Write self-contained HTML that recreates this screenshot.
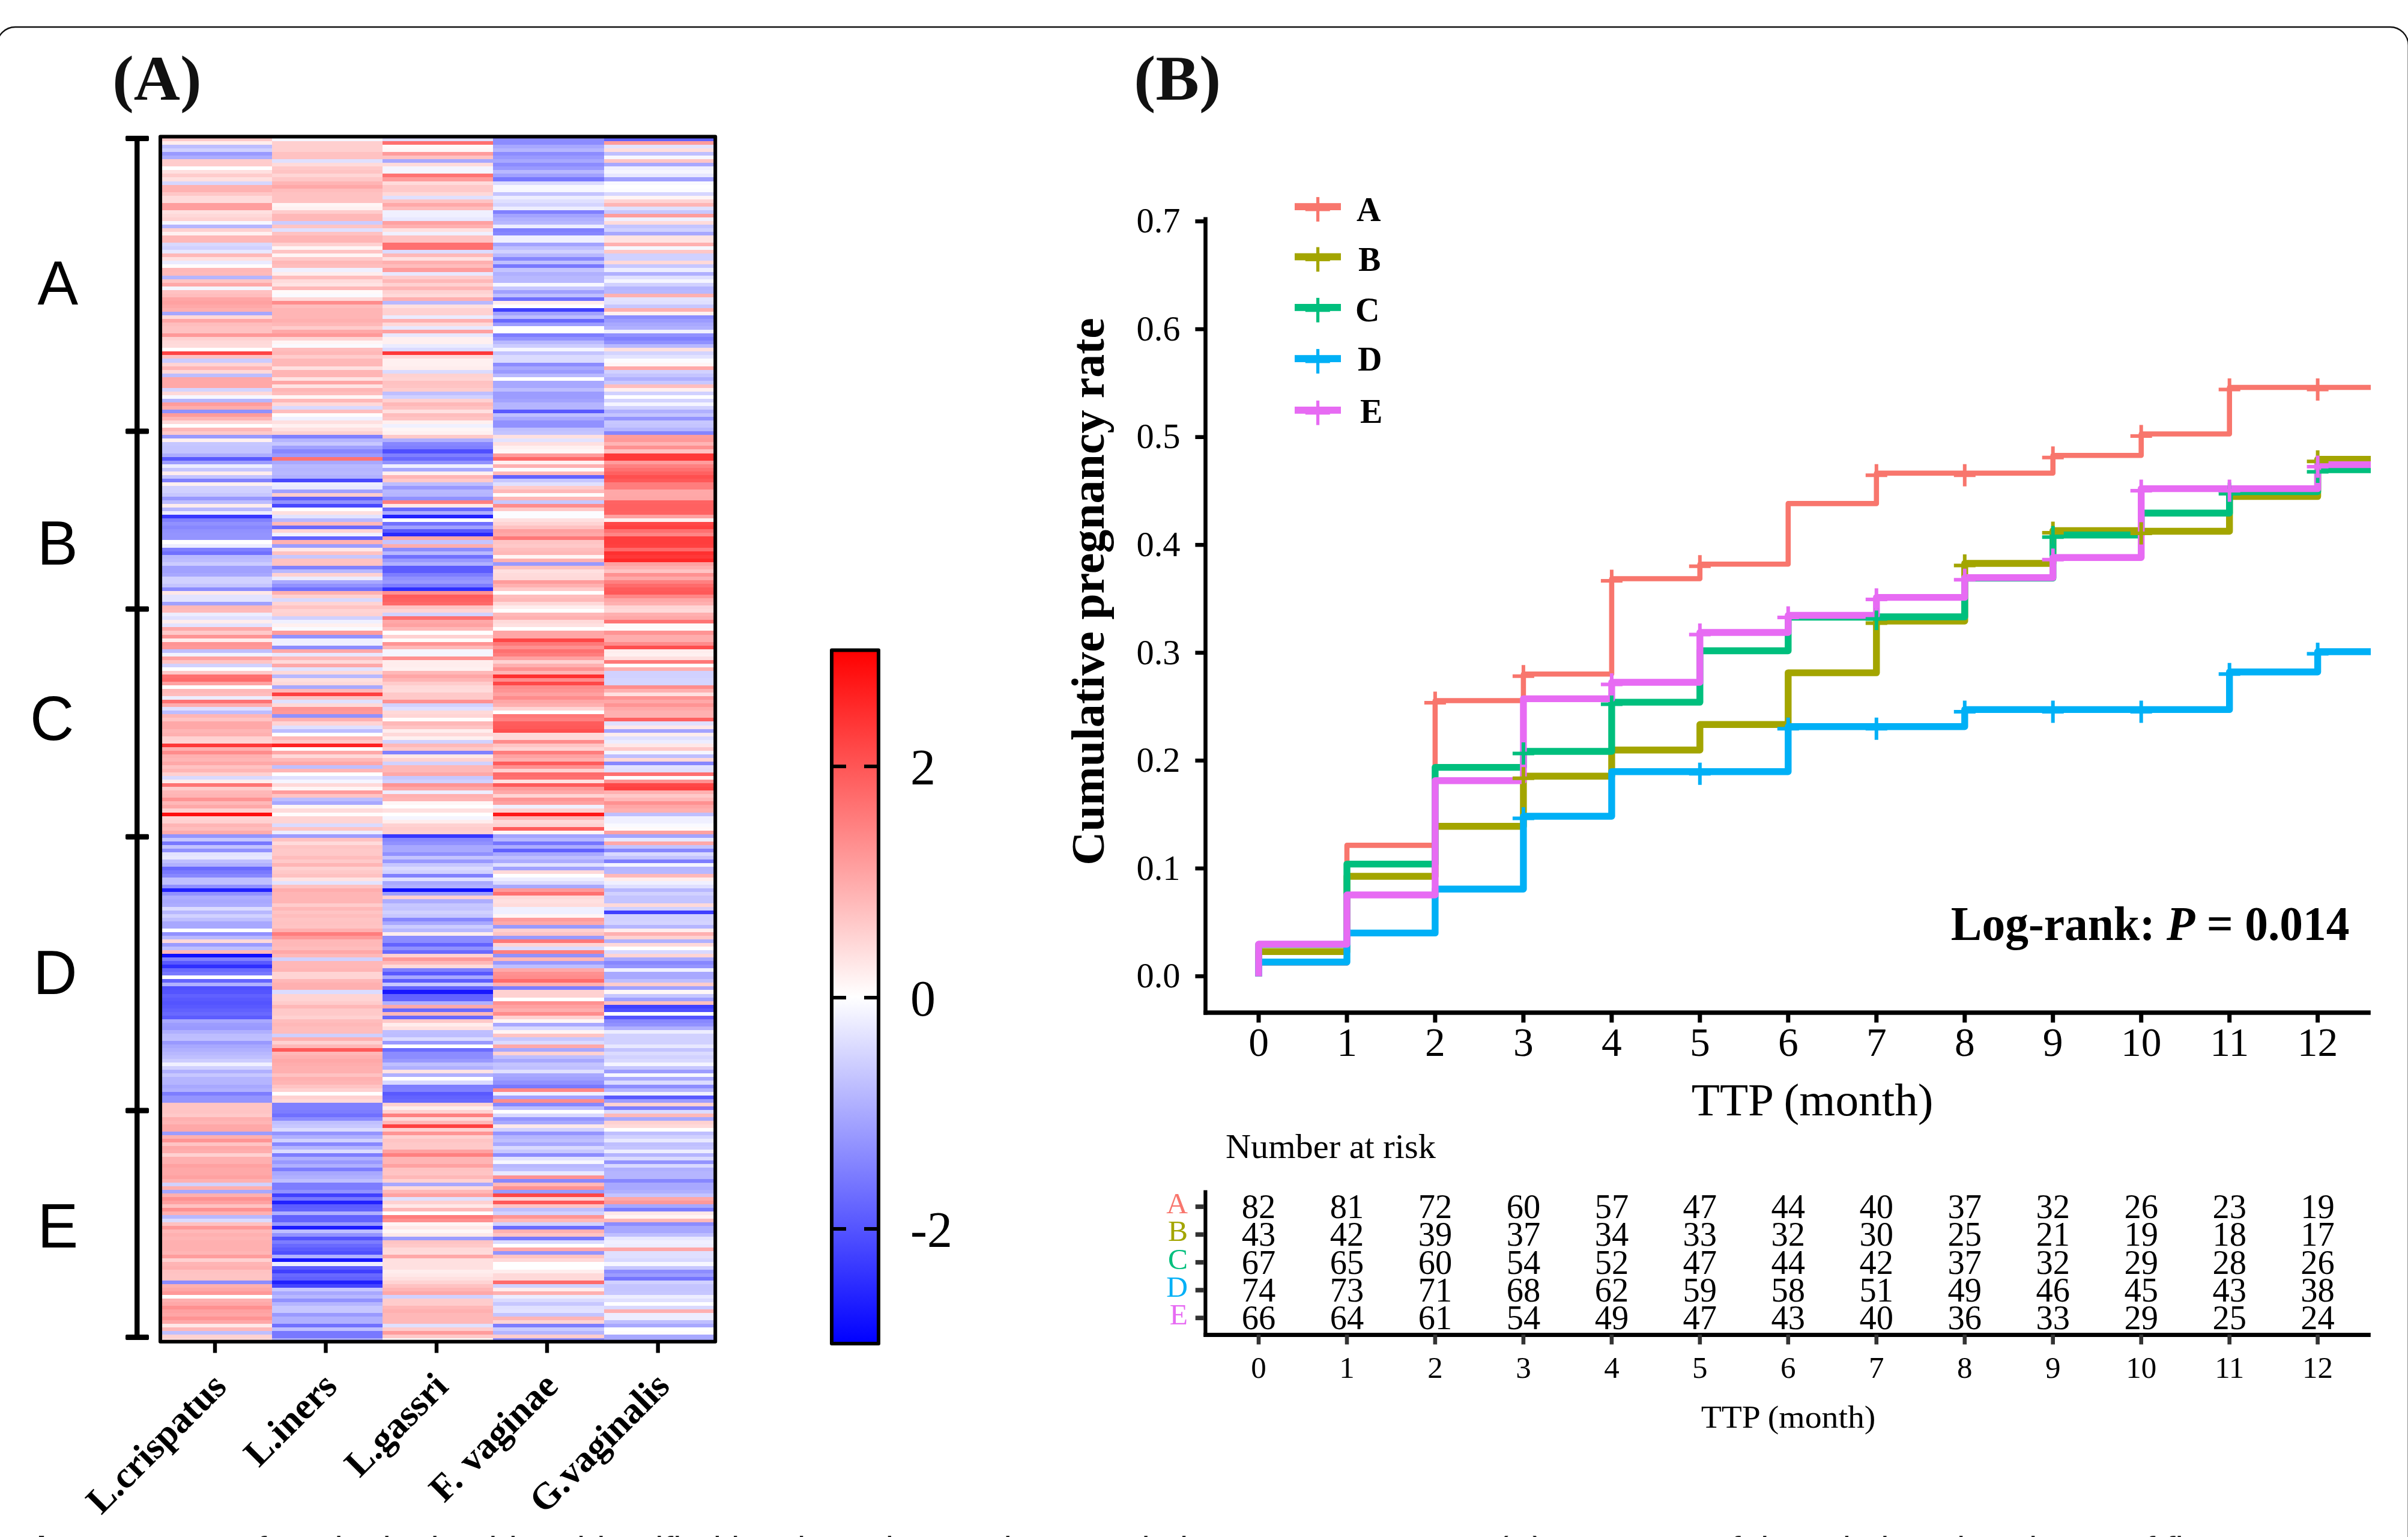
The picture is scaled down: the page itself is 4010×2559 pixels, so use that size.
<!DOCTYPE html>
<html lang="en"><head><meta charset="utf-8"><title>Figure</title>
<style>html,body{margin:0;padding:0;background:#fff}body{width:4010px;height:2559px;overflow:hidden}svg{display:block}</style>
</head><body>
<svg width="4010" height="2559" viewBox="0 0 4010 2559">
<rect width="4010" height="2559" fill="#fff"/>
<g shape-rendering="crispEdges">
<g transform="translate(270.0 0)">
<rect y="229.0" width="182.9" height="6.3" fill="#ffc9c9"/>
<rect y="235.0" width="182.9" height="6.3" fill="#ffeded"/>
<rect y="241.1" width="182.9" height="6.3" fill="#bdbdff"/>
<rect y="247.1" width="182.9" height="6.3" fill="#d1d1ff"/>
<rect y="253.2" width="182.9" height="6.3" fill="#99f"/>
<rect y="259.2" width="182.9" height="6.3" fill="#adadff"/>
<rect y="265.2" width="182.9" height="12.4" fill="#fcc"/>
<rect y="277.3" width="182.9" height="6.3" fill="#fff"/>
<rect y="283.4" width="182.9" height="6.3" fill="#ffe0e0"/>
<rect y="289.4" width="182.9" height="6.3" fill="#fcc"/>
<rect y="295.4" width="182.9" height="6.3" fill="#ffe0e0"/>
<rect y="301.5" width="182.9" height="6.3" fill="#d6d6ff"/>
<rect y="307.5" width="182.9" height="12.4" fill="#ffb2b2"/>
<rect y="319.6" width="182.9" height="6.3" fill="#ffc7c7"/>
<rect y="325.6" width="182.9" height="12.4" fill="#ffdbdb"/>
<rect y="337.7" width="182.9" height="12.4" fill="#ff9e9e"/>
<rect y="349.8" width="182.9" height="6.3" fill="#ffe0e0"/>
<rect y="355.8" width="182.9" height="6.3" fill="#ffd9d9"/>
<rect y="361.9" width="182.9" height="6.3" fill="#ffd1d1"/>
<rect y="367.9" width="182.9" height="6.3" fill="#f7f7ff"/>
<rect y="374.0" width="182.9" height="6.3" fill="#b5b5ff"/>
<rect y="380.0" width="182.9" height="6.3" fill="#ffd1d1"/>
<rect y="386.0" width="182.9" height="6.3" fill="#fff0f0"/>
<rect y="392.1" width="182.9" height="12.4" fill="#ffb8b8"/>
<rect y="404.2" width="182.9" height="6.3" fill="#d9d9ff"/>
<rect y="410.2" width="182.9" height="6.3" fill="#d1d1ff"/>
<rect y="416.2" width="182.9" height="6.3" fill="#e8e8ff"/>
<rect y="422.3" width="182.9" height="6.3" fill="#ffb8b8"/>
<rect y="428.3" width="182.9" height="6.3" fill="#ffe0e0"/>
<rect y="434.4" width="182.9" height="6.3" fill="#ebebff"/>
<rect y="440.4" width="182.9" height="6.3" fill="#fffcfc"/>
<rect y="446.4" width="182.9" height="6.3" fill="#ffb8b8"/>
<rect y="452.5" width="182.9" height="6.3" fill="#ffbaba"/>
<rect y="458.5" width="182.9" height="6.3" fill="#b5b5ff"/>
<rect y="464.6" width="182.9" height="6.3" fill="#ffc4c4"/>
<rect y="470.6" width="182.9" height="6.3" fill="#ffa8a8"/>
<rect y="476.6" width="182.9" height="6.3" fill="#f5f5ff"/>
<rect y="482.7" width="182.9" height="6.3" fill="#ffc2c2"/>
<rect y="488.7" width="182.9" height="6.3" fill="#ffbdbd"/>
<rect y="494.8" width="182.9" height="6.3" fill="#ffa6a6"/>
<rect y="500.8" width="182.9" height="6.3" fill="#ffa1a1"/>
<rect y="506.8" width="182.9" height="6.3" fill="#ffa8a8"/>
<rect y="512.9" width="182.9" height="6.3" fill="#ffb0b0"/>
<rect y="518.9" width="182.9" height="6.3" fill="#a6a6ff"/>
<rect y="525.0" width="182.9" height="6.3" fill="#ffd9d9"/>
<rect y="531.0" width="182.9" height="6.3" fill="#ffa6a6"/>
<rect y="537.0" width="182.9" height="6.3" fill="#ffbdbd"/>
<rect y="543.1" width="182.9" height="12.4" fill="#ffc2c2"/>
<rect y="555.2" width="182.9" height="6.3" fill="#f99"/>
<rect y="561.2" width="182.9" height="6.3" fill="#ffd1d1"/>
<rect y="567.2" width="182.9" height="6.3" fill="#ffd9d9"/>
<rect y="573.3" width="182.9" height="6.3" fill="#ffdbdb"/>
<rect y="579.3" width="182.9" height="6.3" fill="#fff"/>
<rect y="585.4" width="182.9" height="6.3" fill="#ff4545"/>
<rect y="591.4" width="182.9" height="6.3" fill="#ffc2c2"/>
<rect y="597.4" width="182.9" height="6.3" fill="#ccf"/>
<rect y="603.5" width="182.9" height="6.3" fill="#ffd4d4"/>
<rect y="609.5" width="182.9" height="6.3" fill="#ffb5b5"/>
<rect y="615.6" width="182.9" height="6.3" fill="#ffd9d9"/>
<rect y="621.6" width="182.9" height="6.3" fill="#bdbdff"/>
<rect y="627.6" width="182.9" height="18.4" fill="#ffa8a8"/>
<rect y="645.8" width="182.9" height="6.3" fill="#d4d4ff"/>
<rect y="651.8" width="182.9" height="6.3" fill="#ffd9d9"/>
<rect y="657.8" width="182.9" height="6.3" fill="#f7f7ff"/>
<rect y="663.9" width="182.9" height="6.3" fill="#b5b5ff"/>
<rect y="669.9" width="182.9" height="6.3" fill="#ff9c9c"/>
<rect y="676.0" width="182.9" height="6.3" fill="#ffadad"/>
<rect y="682.0" width="182.9" height="6.3" fill="#9191ff"/>
<rect y="688.0" width="182.9" height="6.3" fill="#ff9c9c"/>
<rect y="694.1" width="182.9" height="6.3" fill="#ffb5b5"/>
<rect y="700.1" width="182.9" height="6.3" fill="#ffd9d9"/>
<rect y="706.2" width="182.9" height="6.3" fill="#fff"/>
<rect y="712.2" width="182.9" height="6.3" fill="#ffb8b8"/>
<rect y="718.2" width="182.9" height="6.3" fill="#ffc9c9"/>
<rect y="724.3" width="182.9" height="6.3" fill="#99f"/>
<rect y="730.3" width="182.9" height="6.3" fill="#fff0f0"/>
<rect y="736.4" width="182.9" height="6.3" fill="#c7c7ff"/>
<rect y="742.4" width="182.9" height="12.4" fill="#c4c4ff"/>
<rect y="754.5" width="182.9" height="6.3" fill="#adadff"/>
<rect y="760.5" width="182.9" height="6.3" fill="#5959ff"/>
<rect y="766.6" width="182.9" height="6.3" fill="#9c9cff"/>
<rect y="772.6" width="182.9" height="6.3" fill="#ededff"/>
<rect y="778.6" width="182.9" height="6.3" fill="#c7c7ff"/>
<rect y="784.7" width="182.9" height="6.3" fill="#ffeded"/>
<rect y="790.7" width="182.9" height="6.3" fill="#c4c4ff"/>
<rect y="796.8" width="182.9" height="6.3" fill="#8080ff"/>
<rect y="802.8" width="182.9" height="6.3" fill="#fff0f0"/>
<rect y="808.8" width="182.9" height="12.4" fill="#d1d1ff"/>
<rect y="820.9" width="182.9" height="6.3" fill="#c7c7ff"/>
<rect y="827.0" width="182.9" height="6.3" fill="#99f"/>
<rect y="833.0" width="182.9" height="6.3" fill="#bdbdff"/>
<rect y="839.0" width="182.9" height="6.3" fill="#ffeded"/>
<rect y="845.1" width="182.9" height="6.3" fill="#b8b8ff"/>
<rect y="851.1" width="182.9" height="6.3" fill="#ededff"/>
<rect y="857.2" width="182.9" height="6.3" fill="#3838ff"/>
<rect y="863.2" width="182.9" height="6.3" fill="#8080ff"/>
<rect y="869.2" width="182.9" height="6.3" fill="#9191ff"/>
<rect y="875.3" width="182.9" height="6.3" fill="#8787ff"/>
<rect y="881.3" width="182.9" height="6.3" fill="#9191ff"/>
<rect y="887.4" width="182.9" height="12.4" fill="#9494ff"/>
<rect y="899.4" width="182.9" height="6.3" fill="#fff"/>
<rect y="905.5" width="182.9" height="6.3" fill="#ededff"/>
<rect y="911.5" width="182.9" height="6.3" fill="#8080ff"/>
<rect y="917.6" width="182.9" height="6.3" fill="#7070ff"/>
<rect y="923.6" width="182.9" height="6.3" fill="#b8b8ff"/>
<rect y="929.6" width="182.9" height="6.3" fill="#bdbdff"/>
<rect y="935.7" width="182.9" height="6.3" fill="#ccf"/>
<rect y="941.7" width="182.9" height="12.4" fill="#a1a1ff"/>
<rect y="953.8" width="182.9" height="6.3" fill="#a8a8ff"/>
<rect y="959.8" width="182.9" height="12.4" fill="#d1d1ff"/>
<rect y="971.9" width="182.9" height="6.3" fill="#c4c4ff"/>
<rect y="978.0" width="182.9" height="6.3" fill="#8c8cff"/>
<rect y="984.0" width="182.9" height="6.3" fill="#ffe8e8"/>
<rect y="990.0" width="182.9" height="12.4" fill="#e3e3ff"/>
<rect y="1002.1" width="182.9" height="6.3" fill="#a1a1ff"/>
<rect y="1008.2" width="182.9" height="6.3" fill="#ffb8b8"/>
<rect y="1014.2" width="182.9" height="6.3" fill="#ffbaba"/>
<rect y="1020.2" width="182.9" height="6.3" fill="#ededff"/>
<rect y="1026.3" width="182.9" height="6.3" fill="#e0e0ff"/>
<rect y="1032.3" width="182.9" height="6.3" fill="#ffeded"/>
<rect y="1038.4" width="182.9" height="6.3" fill="#e3e3ff"/>
<rect y="1044.4" width="182.9" height="6.3" fill="#ffa8a8"/>
<rect y="1050.4" width="182.9" height="6.3" fill="#ffc9c9"/>
<rect y="1056.5" width="182.9" height="6.3" fill="#ff9494"/>
<rect y="1062.5" width="182.9" height="6.3" fill="#ffeded"/>
<rect y="1068.6" width="182.9" height="6.3" fill="#ff9494"/>
<rect y="1074.6" width="182.9" height="6.3" fill="#f99"/>
<rect y="1080.6" width="182.9" height="6.3" fill="#bfbfff"/>
<rect y="1086.7" width="182.9" height="6.3" fill="#f2f2ff"/>
<rect y="1092.7" width="182.9" height="6.3" fill="#ffa1a1"/>
<rect y="1098.8" width="182.9" height="6.3" fill="#ffc4c4"/>
<rect y="1104.8" width="182.9" height="6.3" fill="#d1d1ff"/>
<rect y="1110.8" width="182.9" height="6.3" fill="#fff"/>
<rect y="1116.9" width="182.9" height="6.3" fill="#ffc9c9"/>
<rect y="1122.9" width="182.9" height="6.3" fill="#ff7070"/>
<rect y="1129.0" width="182.9" height="6.3" fill="#ff6b6b"/>
<rect y="1135.0" width="182.9" height="6.3" fill="#ffa1a1"/>
<rect y="1141.0" width="182.9" height="6.3" fill="#fff"/>
<rect y="1147.1" width="182.9" height="6.3" fill="#ffb8b8"/>
<rect y="1153.1" width="182.9" height="6.3" fill="#ffbdbd"/>
<rect y="1159.2" width="182.9" height="6.3" fill="#ededff"/>
<rect y="1165.2" width="182.9" height="6.3" fill="#ff7373"/>
<rect y="1171.2" width="182.9" height="6.3" fill="#ffadad"/>
<rect y="1177.3" width="182.9" height="6.3" fill="#e0e0ff"/>
<rect y="1183.3" width="182.9" height="6.3" fill="#bdbdff"/>
<rect y="1189.4" width="182.9" height="6.3" fill="#ffb5b5"/>
<rect y="1195.4" width="182.9" height="6.3" fill="#ffc4c4"/>
<rect y="1201.4" width="182.9" height="12.4" fill="#ffa8a8"/>
<rect y="1213.5" width="182.9" height="6.3" fill="#ffb5b5"/>
<rect y="1219.6" width="182.9" height="6.3" fill="#ffb0b0"/>
<rect y="1225.6" width="182.9" height="6.3" fill="#ffd1d1"/>
<rect y="1231.7" width="182.9" height="6.3" fill="#ffd4d4"/>
<rect y="1237.7" width="182.9" height="6.3" fill="#ff3838"/>
<rect y="1243.7" width="182.9" height="6.3" fill="#ffb0b0"/>
<rect y="1249.8" width="182.9" height="6.3" fill="#ff8c8c"/>
<rect y="1255.8" width="182.9" height="6.3" fill="#ffb0b0"/>
<rect y="1261.9" width="182.9" height="6.3" fill="#ffb5b5"/>
<rect y="1267.9" width="182.9" height="6.3" fill="#ffa8a8"/>
<rect y="1273.9" width="182.9" height="6.3" fill="#ffc2c2"/>
<rect y="1280.0" width="182.9" height="6.3" fill="#ffb5b5"/>
<rect y="1286.0" width="182.9" height="6.3" fill="#ffd1d1"/>
<rect y="1292.1" width="182.9" height="6.3" fill="#d9d9ff"/>
<rect y="1298.1" width="182.9" height="6.3" fill="#ffeded"/>
<rect y="1304.1" width="182.9" height="6.3" fill="#ff7373"/>
<rect y="1310.2" width="182.9" height="6.3" fill="#fcc"/>
<rect y="1316.2" width="182.9" height="6.3" fill="#ffb8b8"/>
<rect y="1322.3" width="182.9" height="6.3" fill="#ffb5b5"/>
<rect y="1328.3" width="182.9" height="6.3" fill="#ff9494"/>
<rect y="1334.3" width="182.9" height="6.3" fill="#ffb8b8"/>
<rect y="1340.4" width="182.9" height="6.3" fill="#ffa8a8"/>
<rect y="1346.4" width="182.9" height="6.3" fill="#ffd1d1"/>
<rect y="1352.5" width="182.9" height="6.3" fill="#ff0f0f"/>
<rect y="1358.5" width="182.9" height="6.3" fill="#ffd4d4"/>
<rect y="1364.5" width="182.9" height="6.3" fill="#ffd1d1"/>
<rect y="1370.6" width="182.9" height="6.3" fill="#ffb5b5"/>
<rect y="1376.6" width="182.9" height="6.3" fill="#ffbdbd"/>
<rect y="1382.7" width="182.9" height="6.3" fill="#ffabab"/>
<rect y="1388.7" width="182.9" height="6.3" fill="#9494ff"/>
<rect y="1394.7" width="182.9" height="6.3" fill="#c7c7ff"/>
<rect y="1400.8" width="182.9" height="6.3" fill="#7878ff"/>
<rect y="1406.8" width="182.9" height="6.3" fill="#c4c4ff"/>
<rect y="1412.9" width="182.9" height="6.3" fill="#9191ff"/>
<rect y="1418.9" width="182.9" height="6.3" fill="#e3e3ff"/>
<rect y="1424.9" width="182.9" height="6.3" fill="#e8e8ff"/>
<rect y="1431.0" width="182.9" height="6.3" fill="#bfbfff"/>
<rect y="1437.0" width="182.9" height="6.3" fill="#b0b0ff"/>
<rect y="1443.1" width="182.9" height="6.3" fill="#6969ff"/>
<rect y="1449.1" width="182.9" height="6.3" fill="#7878ff"/>
<rect y="1455.1" width="182.9" height="6.3" fill="#8787ff"/>
<rect y="1461.2" width="182.9" height="12.4" fill="#bfbfff"/>
<rect y="1473.3" width="182.9" height="6.3" fill="#9191ff"/>
<rect y="1479.3" width="182.9" height="6.3" fill="#2121ff"/>
<rect y="1485.3" width="182.9" height="6.3" fill="#9191ff"/>
<rect y="1491.4" width="182.9" height="6.3" fill="#adadff"/>
<rect y="1497.4" width="182.9" height="6.3" fill="#a8a8ff"/>
<rect y="1503.5" width="182.9" height="6.3" fill="#adadff"/>
<rect y="1509.5" width="182.9" height="6.3" fill="#dbdbff"/>
<rect y="1515.5" width="182.9" height="6.3" fill="#b8b8ff"/>
<rect y="1521.6" width="182.9" height="6.3" fill="#d1d1ff"/>
<rect y="1527.6" width="182.9" height="6.3" fill="#bfbfff"/>
<rect y="1533.7" width="182.9" height="12.4" fill="#a8a8ff"/>
<rect y="1545.7" width="182.9" height="6.3" fill="#fff"/>
<rect y="1551.8" width="182.9" height="6.3" fill="#9191ff"/>
<rect y="1557.8" width="182.9" height="6.3" fill="#b8b8ff"/>
<rect y="1563.9" width="182.9" height="6.3" fill="#ffd9d9"/>
<rect y="1569.9" width="182.9" height="6.3" fill="#9c9cff"/>
<rect y="1575.9" width="182.9" height="6.3" fill="#bfbfff"/>
<rect y="1582.0" width="182.9" height="6.3" fill="#ffb8b8"/>
<rect y="1588.0" width="182.9" height="6.3" fill="#0f0fff"/>
<rect y="1594.1" width="182.9" height="6.3" fill="#8080ff"/>
<rect y="1600.1" width="182.9" height="6.3" fill="#5959ff"/>
<rect y="1606.1" width="182.9" height="6.3" fill="#3030ff"/>
<rect y="1612.2" width="182.9" height="6.3" fill="#6969ff"/>
<rect y="1618.2" width="182.9" height="6.3" fill="#7878ff"/>
<rect y="1624.3" width="182.9" height="6.3" fill="#fff"/>
<rect y="1630.3" width="182.9" height="6.3" fill="#6363ff"/>
<rect y="1636.3" width="182.9" height="6.3" fill="#b0b0ff"/>
<rect y="1642.4" width="182.9" height="6.3" fill="#4f4fff"/>
<rect y="1648.4" width="182.9" height="6.3" fill="#5454ff"/>
<rect y="1654.5" width="182.9" height="6.3" fill="#6161ff"/>
<rect y="1660.5" width="182.9" height="6.3" fill="#5959ff"/>
<rect y="1666.5" width="182.9" height="6.3" fill="#5454ff"/>
<rect y="1672.6" width="182.9" height="6.3" fill="#5959ff"/>
<rect y="1678.6" width="182.9" height="6.3" fill="#6161ff"/>
<rect y="1684.7" width="182.9" height="6.3" fill="#6969ff"/>
<rect y="1690.7" width="182.9" height="6.3" fill="#5c5cff"/>
<rect y="1696.7" width="182.9" height="6.3" fill="#a8a8ff"/>
<rect y="1702.8" width="182.9" height="6.3" fill="#9c9cff"/>
<rect y="1708.8" width="182.9" height="6.3" fill="#99f"/>
<rect y="1714.9" width="182.9" height="6.3" fill="#b0b0ff"/>
<rect y="1720.9" width="182.9" height="6.3" fill="#bdbdff"/>
<rect y="1726.9" width="182.9" height="6.3" fill="#bfbfff"/>
<rect y="1733.0" width="182.9" height="6.3" fill="#99f"/>
<rect y="1739.0" width="182.9" height="6.3" fill="#a8a8ff"/>
<rect y="1745.1" width="182.9" height="6.3" fill="#b0b0ff"/>
<rect y="1751.1" width="182.9" height="6.3" fill="#b8b8ff"/>
<rect y="1757.1" width="182.9" height="6.3" fill="#bfbfff"/>
<rect y="1763.2" width="182.9" height="6.3" fill="#ccf"/>
<rect y="1769.2" width="182.9" height="6.3" fill="#f0f0ff"/>
<rect y="1775.3" width="182.9" height="6.3" fill="#d1d1ff"/>
<rect y="1781.3" width="182.9" height="6.3" fill="#b0b0ff"/>
<rect y="1787.3" width="182.9" height="6.3" fill="#c7c7ff"/>
<rect y="1793.4" width="182.9" height="12.4" fill="#b5b5ff"/>
<rect y="1805.5" width="182.9" height="6.3" fill="#a8a8ff"/>
<rect y="1811.5" width="182.9" height="6.3" fill="#b0b0ff"/>
<rect y="1817.5" width="182.9" height="6.3" fill="#7d7dff"/>
<rect y="1823.6" width="182.9" height="12.4" fill="#9494ff"/>
<rect y="1835.7" width="182.9" height="18.4" fill="#ffc4c4"/>
<rect y="1853.8" width="182.9" height="6.3" fill="#ffc9c9"/>
<rect y="1859.8" width="182.9" height="6.3" fill="#ffb0b0"/>
<rect y="1865.9" width="182.9" height="6.3" fill="#ffb5b5"/>
<rect y="1871.9" width="182.9" height="12.4" fill="#ffa8a8"/>
<rect y="1884.0" width="182.9" height="6.3" fill="#9c9cff"/>
<rect y="1890.0" width="182.9" height="6.3" fill="#ffb0b0"/>
<rect y="1896.1" width="182.9" height="6.3" fill="#ff9494"/>
<rect y="1902.1" width="182.9" height="6.3" fill="#ffc4c4"/>
<rect y="1908.1" width="182.9" height="6.3" fill="#ffa8a8"/>
<rect y="1914.2" width="182.9" height="6.3" fill="#ffadad"/>
<rect y="1920.2" width="182.9" height="6.3" fill="#ffd1d1"/>
<rect y="1926.3" width="182.9" height="12.4" fill="#ffb0b0"/>
<rect y="1938.3" width="182.9" height="6.3" fill="#ffa1a1"/>
<rect y="1944.4" width="182.9" height="12.4" fill="#ffa8a8"/>
<rect y="1956.5" width="182.9" height="6.3" fill="#ffa1a1"/>
<rect y="1962.5" width="182.9" height="6.3" fill="#ffb0b0"/>
<rect y="1968.5" width="182.9" height="6.3" fill="#d1d1ff"/>
<rect y="1974.6" width="182.9" height="6.3" fill="#ffb0b0"/>
<rect y="1980.6" width="182.9" height="6.3" fill="#a8a8ff"/>
<rect y="1986.7" width="182.9" height="6.3" fill="#ffb0b0"/>
<rect y="1992.7" width="182.9" height="6.3" fill="#ff9191"/>
<rect y="1998.7" width="182.9" height="6.3" fill="#ffa1a1"/>
<rect y="2004.8" width="182.9" height="6.3" fill="#ffc2c2"/>
<rect y="2010.8" width="182.9" height="6.3" fill="#ff9191"/>
<rect y="2016.9" width="182.9" height="6.3" fill="#ffb0b0"/>
<rect y="2022.9" width="182.9" height="6.3" fill="#b8b8ff"/>
<rect y="2028.9" width="182.9" height="6.3" fill="#dbdbff"/>
<rect y="2035.0" width="182.9" height="6.3" fill="#ffc2c2"/>
<rect y="2041.0" width="182.9" height="6.3" fill="#f99"/>
<rect y="2047.1" width="182.9" height="6.3" fill="#ffb8b8"/>
<rect y="2053.1" width="182.9" height="6.3" fill="#ffb0b0"/>
<rect y="2059.1" width="182.9" height="6.3" fill="#ffb5b5"/>
<rect y="2065.2" width="182.9" height="18.4" fill="#ffb0b0"/>
<rect y="2083.3" width="182.9" height="6.3" fill="#ffb5b5"/>
<rect y="2089.3" width="182.9" height="6.3" fill="#ff9c9c"/>
<rect y="2095.4" width="182.9" height="6.3" fill="#ffd1d1"/>
<rect y="2101.4" width="182.9" height="6.3" fill="#ffb5b5"/>
<rect y="2107.5" width="182.9" height="6.3" fill="#ffb0b0"/>
<rect y="2113.5" width="182.9" height="6.3" fill="#ffc2c2"/>
<rect y="2119.5" width="182.9" height="12.4" fill="#ffc4c4"/>
<rect y="2131.6" width="182.9" height="6.3" fill="#8c8cff"/>
<rect y="2137.7" width="182.9" height="6.3" fill="#ffb0b0"/>
<rect y="2143.7" width="182.9" height="6.3" fill="#ffa6a6"/>
<rect y="2149.7" width="182.9" height="6.3" fill="#f99"/>
<rect y="2155.8" width="182.9" height="6.3" fill="#fff"/>
<rect y="2161.8" width="182.9" height="6.3" fill="#ffb0b0"/>
<rect y="2167.9" width="182.9" height="6.3" fill="#ffa8a8"/>
<rect y="2173.9" width="182.9" height="6.3" fill="#ff9191"/>
<rect y="2179.9" width="182.9" height="6.3" fill="#ffa1a1"/>
<rect y="2186.0" width="182.9" height="6.3" fill="#ffa6a6"/>
<rect y="2192.0" width="182.9" height="6.3" fill="#ff9494"/>
<rect y="2198.1" width="182.9" height="6.3" fill="#ffa8a8"/>
<rect y="2204.1" width="182.9" height="6.3" fill="#ffe8e8"/>
<rect y="2210.1" width="182.9" height="6.3" fill="#ffb8b8"/>
<rect y="2216.2" width="182.9" height="6.3" fill="#bfbfff"/>
<rect y="2222.2" width="182.9" height="6.3" fill="#ffd1d1"/>
<rect y="2228.3" width="182.9" height="6.3" fill="#ffd9d9"/>
</g>
<g transform="translate(452.6 0)">
<rect y="229.0" width="184.9" height="6.3" fill="#f5f5ff"/>
<rect y="235.0" width="184.9" height="18.4" fill="#ffcfcf"/>
<rect y="253.2" width="184.9" height="12.4" fill="#ffc2c2"/>
<rect y="265.2" width="184.9" height="6.3" fill="#e0e0ff"/>
<rect y="271.3" width="184.9" height="6.3" fill="#ffdbdb"/>
<rect y="277.3" width="184.9" height="6.3" fill="#ffc9c9"/>
<rect y="283.4" width="184.9" height="6.3" fill="#ffc4c4"/>
<rect y="289.4" width="184.9" height="6.3" fill="#ffd6d6"/>
<rect y="295.4" width="184.9" height="6.3" fill="#ffc7c7"/>
<rect y="301.5" width="184.9" height="6.3" fill="#ffb5b5"/>
<rect y="307.5" width="184.9" height="6.3" fill="#ffa8a8"/>
<rect y="313.6" width="184.9" height="6.3" fill="#ffbdbd"/>
<rect y="319.6" width="184.9" height="18.4" fill="#ffc2c2"/>
<rect y="337.7" width="184.9" height="6.3" fill="#fff5f5"/>
<rect y="343.8" width="184.9" height="6.3" fill="#fff0f0"/>
<rect y="349.8" width="184.9" height="6.3" fill="#fcc"/>
<rect y="355.8" width="184.9" height="12.4" fill="#ffb8b8"/>
<rect y="367.9" width="184.9" height="6.3" fill="#ccf"/>
<rect y="374.0" width="184.9" height="6.3" fill="#ffc4c4"/>
<rect y="380.0" width="184.9" height="6.3" fill="#e0e0ff"/>
<rect y="386.0" width="184.9" height="6.3" fill="#ffc2c2"/>
<rect y="392.1" width="184.9" height="12.4" fill="#ffb5b5"/>
<rect y="404.2" width="184.9" height="6.3" fill="#ffd1d1"/>
<rect y="410.2" width="184.9" height="6.3" fill="#fff5f5"/>
<rect y="416.2" width="184.9" height="6.3" fill="#ffc4c4"/>
<rect y="422.3" width="184.9" height="6.3" fill="#fff5f5"/>
<rect y="428.3" width="184.9" height="6.3" fill="#ffc9c9"/>
<rect y="434.4" width="184.9" height="6.3" fill="#ffb8b8"/>
<rect y="440.4" width="184.9" height="6.3" fill="#ffbdbd"/>
<rect y="446.4" width="184.9" height="6.3" fill="#f0f0ff"/>
<rect y="452.5" width="184.9" height="6.3" fill="#ffeded"/>
<rect y="458.5" width="184.9" height="6.3" fill="#ffbdbd"/>
<rect y="464.6" width="184.9" height="6.3" fill="#ffdbdb"/>
<rect y="470.6" width="184.9" height="6.3" fill="#ffe3e3"/>
<rect y="476.6" width="184.9" height="6.3" fill="#ffb8b8"/>
<rect y="482.7" width="184.9" height="6.3" fill="#fffafa"/>
<rect y="488.7" width="184.9" height="6.3" fill="#fafaff"/>
<rect y="494.8" width="184.9" height="6.3" fill="#ffd9d9"/>
<rect y="500.8" width="184.9" height="6.3" fill="#ff8c8c"/>
<rect y="506.8" width="184.9" height="6.3" fill="#ffbdbd"/>
<rect y="512.9" width="184.9" height="18.4" fill="#ffb5b5"/>
<rect y="531.0" width="184.9" height="6.3" fill="#ffb0b0"/>
<rect y="537.0" width="184.9" height="6.3" fill="#ffb8b8"/>
<rect y="543.1" width="184.9" height="6.3" fill="#fcc"/>
<rect y="549.1" width="184.9" height="6.3" fill="#ffa8a8"/>
<rect y="555.2" width="184.9" height="6.3" fill="#f99"/>
<rect y="561.2" width="184.9" height="6.3" fill="#ffd4d4"/>
<rect y="567.2" width="184.9" height="6.3" fill="#fff5f5"/>
<rect y="573.3" width="184.9" height="6.3" fill="#fafaff"/>
<rect y="579.3" width="184.9" height="6.3" fill="#ffbdbd"/>
<rect y="585.4" width="184.9" height="6.3" fill="#ffb8b8"/>
<rect y="591.4" width="184.9" height="6.3" fill="#fcc"/>
<rect y="597.4" width="184.9" height="12.4" fill="#ffb8b8"/>
<rect y="609.5" width="184.9" height="6.3" fill="#ffe0e0"/>
<rect y="615.6" width="184.9" height="12.4" fill="#ffb5b5"/>
<rect y="627.6" width="184.9" height="6.3" fill="#ffe3e3"/>
<rect y="633.7" width="184.9" height="6.3" fill="#ffa6a6"/>
<rect y="639.7" width="184.9" height="6.3" fill="#ffe3e3"/>
<rect y="645.8" width="184.9" height="6.3" fill="#ffb5b5"/>
<rect y="651.8" width="184.9" height="6.3" fill="#ffbdbd"/>
<rect y="657.8" width="184.9" height="6.3" fill="#fff5f5"/>
<rect y="663.9" width="184.9" height="6.3" fill="#ffb8b8"/>
<rect y="669.9" width="184.9" height="6.3" fill="#ffd9d9"/>
<rect y="676.0" width="184.9" height="6.3" fill="#d9d9ff"/>
<rect y="682.0" width="184.9" height="6.3" fill="#ffbdbd"/>
<rect y="688.0" width="184.9" height="6.3" fill="#fffcfc"/>
<rect y="694.1" width="184.9" height="6.3" fill="#f0f0ff"/>
<rect y="700.1" width="184.9" height="6.3" fill="#ffe0e0"/>
<rect y="706.2" width="184.9" height="6.3" fill="#fff0f0"/>
<rect y="712.2" width="184.9" height="6.3" fill="#ffe0e0"/>
<rect y="718.2" width="184.9" height="6.3" fill="#ffd1d1"/>
<rect y="724.3" width="184.9" height="6.3" fill="#8080ff"/>
<rect y="730.3" width="184.9" height="6.3" fill="#b5b5ff"/>
<rect y="736.4" width="184.9" height="6.3" fill="#c7c7ff"/>
<rect y="742.4" width="184.9" height="6.3" fill="#a1a1ff"/>
<rect y="748.4" width="184.9" height="6.3" fill="#8787ff"/>
<rect y="754.5" width="184.9" height="6.3" fill="#99f"/>
<rect y="760.5" width="184.9" height="6.3" fill="#ff7373"/>
<rect y="766.6" width="184.9" height="6.3" fill="#a8a8ff"/>
<rect y="772.6" width="184.9" height="6.3" fill="#b8b8ff"/>
<rect y="778.6" width="184.9" height="6.3" fill="#b5b5ff"/>
<rect y="784.7" width="184.9" height="6.3" fill="#b8b8ff"/>
<rect y="790.7" width="184.9" height="6.3" fill="#b0b0ff"/>
<rect y="796.8" width="184.9" height="6.3" fill="#4747ff"/>
<rect y="802.8" width="184.9" height="6.3" fill="#ededff"/>
<rect y="808.8" width="184.9" height="6.3" fill="#e8e8ff"/>
<rect y="814.9" width="184.9" height="6.3" fill="#a1a1ff"/>
<rect y="820.9" width="184.9" height="6.3" fill="#fcc"/>
<rect y="827.0" width="184.9" height="6.3" fill="#6161ff"/>
<rect y="833.0" width="184.9" height="6.3" fill="#9191ff"/>
<rect y="839.0" width="184.9" height="6.3" fill="#4747ff"/>
<rect y="845.1" width="184.9" height="6.3" fill="#fff"/>
<rect y="851.1" width="184.9" height="6.3" fill="#ffe0e0"/>
<rect y="857.2" width="184.9" height="6.3" fill="#e3e3ff"/>
<rect y="863.2" width="184.9" height="6.3" fill="#b8b8ff"/>
<rect y="869.2" width="184.9" height="6.3" fill="#ffb8b8"/>
<rect y="875.3" width="184.9" height="6.3" fill="#6969ff"/>
<rect y="881.3" width="184.9" height="6.3" fill="#ffd4d4"/>
<rect y="887.4" width="184.9" height="6.3" fill="#f0f0ff"/>
<rect y="893.4" width="184.9" height="6.3" fill="#6161ff"/>
<rect y="899.4" width="184.9" height="6.3" fill="#ffb0b0"/>
<rect y="905.5" width="184.9" height="6.3" fill="#9c9cff"/>
<rect y="911.5" width="184.9" height="6.3" fill="#ffe8e8"/>
<rect y="917.6" width="184.9" height="6.3" fill="#ffc2c2"/>
<rect y="923.6" width="184.9" height="6.3" fill="#c7c7ff"/>
<rect y="929.6" width="184.9" height="12.4" fill="#ffc2c2"/>
<rect y="941.7" width="184.9" height="6.3" fill="#8080ff"/>
<rect y="947.8" width="184.9" height="6.3" fill="#b8b8ff"/>
<rect y="953.8" width="184.9" height="6.3" fill="#ffd1d1"/>
<rect y="959.8" width="184.9" height="6.3" fill="#ebebff"/>
<rect y="965.9" width="184.9" height="6.3" fill="#a8a8ff"/>
<rect y="971.9" width="184.9" height="6.3" fill="#9191ff"/>
<rect y="978.0" width="184.9" height="6.3" fill="#7070ff"/>
<rect y="984.0" width="184.9" height="6.3" fill="#ffb0b0"/>
<rect y="990.0" width="184.9" height="6.3" fill="#ffd1d1"/>
<rect y="996.1" width="184.9" height="6.3" fill="#d9d9ff"/>
<rect y="1002.1" width="184.9" height="6.3" fill="#ffd4d4"/>
<rect y="1008.2" width="184.9" height="6.3" fill="#ffc4c4"/>
<rect y="1014.2" width="184.9" height="6.3" fill="#ffd4d4"/>
<rect y="1020.2" width="184.9" height="6.3" fill="#ffd1d1"/>
<rect y="1026.3" width="184.9" height="6.3" fill="#d1d1ff"/>
<rect y="1032.3" width="184.9" height="6.3" fill="#f0f0ff"/>
<rect y="1038.4" width="184.9" height="6.3" fill="#fff0f0"/>
<rect y="1044.4" width="184.9" height="6.3" fill="#fafaff"/>
<rect y="1050.4" width="184.9" height="6.3" fill="#ff9c9c"/>
<rect y="1056.5" width="184.9" height="6.3" fill="#9191ff"/>
<rect y="1062.5" width="184.9" height="12.4" fill="#f0f0ff"/>
<rect y="1074.6" width="184.9" height="6.3" fill="#8c8cff"/>
<rect y="1080.6" width="184.9" height="6.3" fill="#ffa8a8"/>
<rect y="1086.7" width="184.9" height="6.3" fill="#e8e8ff"/>
<rect y="1092.7" width="184.9" height="6.3" fill="#ffb8b8"/>
<rect y="1098.8" width="184.9" height="6.3" fill="#ffd9d9"/>
<rect y="1104.8" width="184.9" height="6.3" fill="#ffa8a8"/>
<rect y="1110.8" width="184.9" height="6.3" fill="#e3e3ff"/>
<rect y="1116.9" width="184.9" height="6.3" fill="#ffd9d9"/>
<rect y="1122.9" width="184.9" height="6.3" fill="#b8b8ff"/>
<rect y="1129.0" width="184.9" height="6.3" fill="#ffe0e0"/>
<rect y="1135.0" width="184.9" height="6.3" fill="#ffd9d9"/>
<rect y="1141.0" width="184.9" height="6.3" fill="#a8a8ff"/>
<rect y="1147.1" width="184.9" height="6.3" fill="#ffb8b8"/>
<rect y="1153.1" width="184.9" height="6.3" fill="#ff4040"/>
<rect y="1159.2" width="184.9" height="6.3" fill="#ffc4c4"/>
<rect y="1165.2" width="184.9" height="6.3" fill="#e0e0ff"/>
<rect y="1171.2" width="184.9" height="6.3" fill="#ffd9d9"/>
<rect y="1177.3" width="184.9" height="6.3" fill="#ff9494"/>
<rect y="1183.3" width="184.9" height="6.3" fill="#f99"/>
<rect y="1189.4" width="184.9" height="6.3" fill="#9191ff"/>
<rect y="1195.4" width="184.9" height="6.3" fill="#ffb0b0"/>
<rect y="1201.4" width="184.9" height="6.3" fill="#ffd4d4"/>
<rect y="1207.5" width="184.9" height="6.3" fill="#e0e0ff"/>
<rect y="1213.5" width="184.9" height="6.3" fill="#bdbdff"/>
<rect y="1219.6" width="184.9" height="6.3" fill="#fff"/>
<rect y="1225.6" width="184.9" height="6.3" fill="#ffb8b8"/>
<rect y="1231.7" width="184.9" height="6.3" fill="#ffc9c9"/>
<rect y="1237.7" width="184.9" height="6.3" fill="#ff2121"/>
<rect y="1243.7" width="184.9" height="6.3" fill="#fffcfc"/>
<rect y="1249.8" width="184.9" height="6.3" fill="#ffa8a8"/>
<rect y="1255.8" width="184.9" height="6.3" fill="#ffd9d9"/>
<rect y="1261.9" width="184.9" height="6.3" fill="#ffb8b8"/>
<rect y="1267.9" width="184.9" height="6.3" fill="#ffa8a8"/>
<rect y="1273.9" width="184.9" height="6.3" fill="#bfbfff"/>
<rect y="1280.0" width="184.9" height="6.3" fill="#ffb5b5"/>
<rect y="1286.0" width="184.9" height="6.3" fill="#fff"/>
<rect y="1292.1" width="184.9" height="6.3" fill="#e0e0ff"/>
<rect y="1298.1" width="184.9" height="6.3" fill="#f5f5ff"/>
<rect y="1304.1" width="184.9" height="6.3" fill="#ffd9d9"/>
<rect y="1310.2" width="184.9" height="6.3" fill="#fff5f5"/>
<rect y="1316.2" width="184.9" height="6.3" fill="#ff9c9c"/>
<rect y="1322.3" width="184.9" height="6.3" fill="#ffc4c4"/>
<rect y="1328.3" width="184.9" height="6.3" fill="#bdbdff"/>
<rect y="1334.3" width="184.9" height="6.3" fill="#a8a8ff"/>
<rect y="1340.4" width="184.9" height="6.3" fill="#fff5f5"/>
<rect y="1346.4" width="184.9" height="6.3" fill="#ffdbdb"/>
<rect y="1352.5" width="184.9" height="6.3" fill="#fffcfc"/>
<rect y="1358.5" width="184.9" height="12.4" fill="#ffd4d4"/>
<rect y="1370.6" width="184.9" height="6.3" fill="#dbdbff"/>
<rect y="1376.6" width="184.9" height="6.3" fill="#ffc4c4"/>
<rect y="1382.7" width="184.9" height="6.3" fill="#ededff"/>
<rect y="1388.7" width="184.9" height="6.3" fill="#9c9cff"/>
<rect y="1394.7" width="184.9" height="6.3" fill="#ffc2c2"/>
<rect y="1400.8" width="184.9" height="6.3" fill="#ffdbdb"/>
<rect y="1406.8" width="184.9" height="6.3" fill="#ffc4c4"/>
<rect y="1412.9" width="184.9" height="12.4" fill="#ffc9c9"/>
<rect y="1424.9" width="184.9" height="6.3" fill="#ffbdbd"/>
<rect y="1431.0" width="184.9" height="6.3" fill="#ffc9c9"/>
<rect y="1437.0" width="184.9" height="6.3" fill="#ffb5b5"/>
<rect y="1443.1" width="184.9" height="6.3" fill="#ffd1d1"/>
<rect y="1449.1" width="184.9" height="6.3" fill="#ffc9c9"/>
<rect y="1455.1" width="184.9" height="6.3" fill="#ffc2c2"/>
<rect y="1461.2" width="184.9" height="6.3" fill="#ffe3e3"/>
<rect y="1467.2" width="184.9" height="6.3" fill="#e3e3ff"/>
<rect y="1473.3" width="184.9" height="6.3" fill="#ffc2c2"/>
<rect y="1479.3" width="184.9" height="6.3" fill="#ffadad"/>
<rect y="1485.3" width="184.9" height="18.4" fill="#ffb5b5"/>
<rect y="1503.5" width="184.9" height="6.3" fill="#fcc"/>
<rect y="1509.5" width="184.9" height="6.3" fill="#ffb8b8"/>
<rect y="1515.5" width="184.9" height="6.3" fill="#ffc4c4"/>
<rect y="1521.6" width="184.9" height="6.3" fill="#ffbdbd"/>
<rect y="1527.6" width="184.9" height="6.3" fill="#ffc4c4"/>
<rect y="1533.7" width="184.9" height="6.3" fill="#ffc2c2"/>
<rect y="1539.7" width="184.9" height="6.3" fill="#ffc4c4"/>
<rect y="1545.7" width="184.9" height="6.3" fill="#ffb0b0"/>
<rect y="1551.8" width="184.9" height="6.3" fill="#ff7d7d"/>
<rect y="1557.8" width="184.9" height="6.3" fill="#f99"/>
<rect y="1563.9" width="184.9" height="12.4" fill="#ffb8b8"/>
<rect y="1575.9" width="184.9" height="6.3" fill="#ffbdbd"/>
<rect y="1582.0" width="184.9" height="6.3" fill="#ffa8a8"/>
<rect y="1588.0" width="184.9" height="6.3" fill="#ffb8b8"/>
<rect y="1594.1" width="184.9" height="6.3" fill="#d1d1ff"/>
<rect y="1600.1" width="184.9" height="12.4" fill="#ffb8b8"/>
<rect y="1612.2" width="184.9" height="6.3" fill="#ffb5b5"/>
<rect y="1618.2" width="184.9" height="12.4" fill="#ffd4d4"/>
<rect y="1630.3" width="184.9" height="6.3" fill="#ffb8b8"/>
<rect y="1636.3" width="184.9" height="12.4" fill="#ffb0b0"/>
<rect y="1648.4" width="184.9" height="6.3" fill="#dbdbff"/>
<rect y="1654.5" width="184.9" height="12.4" fill="#ffd4d4"/>
<rect y="1666.5" width="184.9" height="6.3" fill="#fcc"/>
<rect y="1672.6" width="184.9" height="6.3" fill="#ffb8b8"/>
<rect y="1678.6" width="184.9" height="12.4" fill="#ffc9c9"/>
<rect y="1690.7" width="184.9" height="6.3" fill="#ffd1d1"/>
<rect y="1696.7" width="184.9" height="6.3" fill="#ffbdbd"/>
<rect y="1702.8" width="184.9" height="6.3" fill="#ffb8b8"/>
<rect y="1708.8" width="184.9" height="12.4" fill="#ffbdbd"/>
<rect y="1720.9" width="184.9" height="6.3" fill="#cfcfff"/>
<rect y="1726.9" width="184.9" height="6.3" fill="#ffb0b0"/>
<rect y="1733.0" width="184.9" height="6.3" fill="#ffd1d1"/>
<rect y="1739.0" width="184.9" height="6.3" fill="#ffb8b8"/>
<rect y="1745.1" width="184.9" height="6.3" fill="#ff5959"/>
<rect y="1751.1" width="184.9" height="6.3" fill="#ffb8b8"/>
<rect y="1757.1" width="184.9" height="6.3" fill="#ffb0b0"/>
<rect y="1763.2" width="184.9" height="6.3" fill="#ffa8a8"/>
<rect y="1769.2" width="184.9" height="6.3" fill="#ffadad"/>
<rect y="1775.3" width="184.9" height="12.4" fill="#ffb0b0"/>
<rect y="1787.3" width="184.9" height="6.3" fill="#ffc2c2"/>
<rect y="1793.4" width="184.9" height="6.3" fill="#ffb0b0"/>
<rect y="1799.4" width="184.9" height="6.3" fill="#ffb5b5"/>
<rect y="1805.5" width="184.9" height="6.3" fill="#ffc4c4"/>
<rect y="1811.5" width="184.9" height="6.3" fill="#ffd1d1"/>
<rect y="1817.5" width="184.9" height="6.3" fill="#fff"/>
<rect y="1823.6" width="184.9" height="6.3" fill="#ffd1d1"/>
<rect y="1829.6" width="184.9" height="6.3" fill="#ffd9d9"/>
<rect y="1835.7" width="184.9" height="12.4" fill="#8080ff"/>
<rect y="1847.7" width="184.9" height="6.3" fill="#7d7dff"/>
<rect y="1853.8" width="184.9" height="6.3" fill="#7070ff"/>
<rect y="1859.8" width="184.9" height="6.3" fill="#8c8cff"/>
<rect y="1865.9" width="184.9" height="6.3" fill="#bfbfff"/>
<rect y="1871.9" width="184.9" height="6.3" fill="#c7c7ff"/>
<rect y="1877.9" width="184.9" height="6.3" fill="#dbdbff"/>
<rect y="1884.0" width="184.9" height="6.3" fill="#9494ff"/>
<rect y="1890.0" width="184.9" height="6.3" fill="#b0b0ff"/>
<rect y="1896.1" width="184.9" height="6.3" fill="#d1d1ff"/>
<rect y="1902.1" width="184.9" height="6.3" fill="#8787ff"/>
<rect y="1908.1" width="184.9" height="6.3" fill="#b5b5ff"/>
<rect y="1914.2" width="184.9" height="6.3" fill="#dbdbff"/>
<rect y="1920.2" width="184.9" height="6.3" fill="#7d7dff"/>
<rect y="1926.3" width="184.9" height="6.3" fill="#b0b0ff"/>
<rect y="1932.3" width="184.9" height="6.3" fill="#99f"/>
<rect y="1938.3" width="184.9" height="6.3" fill="#b0b0ff"/>
<rect y="1944.4" width="184.9" height="6.3" fill="#7d7dff"/>
<rect y="1950.4" width="184.9" height="6.3" fill="#a8a8ff"/>
<rect y="1956.5" width="184.9" height="6.3" fill="#b0b0ff"/>
<rect y="1962.5" width="184.9" height="6.3" fill="#bfbfff"/>
<rect y="1968.5" width="184.9" height="12.4" fill="#7d7dff"/>
<rect y="1980.6" width="184.9" height="6.3" fill="#9191ff"/>
<rect y="1986.7" width="184.9" height="6.3" fill="#4040ff"/>
<rect y="1992.7" width="184.9" height="6.3" fill="#7878ff"/>
<rect y="1998.7" width="184.9" height="6.3" fill="#2121ff"/>
<rect y="2004.8" width="184.9" height="6.3" fill="#5c5cff"/>
<rect y="2010.8" width="184.9" height="6.3" fill="#6161ff"/>
<rect y="2016.9" width="184.9" height="6.3" fill="#b0b0ff"/>
<rect y="2022.9" width="184.9" height="6.3" fill="#6161ff"/>
<rect y="2028.9" width="184.9" height="6.3" fill="#6363ff"/>
<rect y="2035.0" width="184.9" height="6.3" fill="#99f"/>
<rect y="2041.0" width="184.9" height="6.3" fill="#1c1cff"/>
<rect y="2047.1" width="184.9" height="6.3" fill="#bfbfff"/>
<rect y="2053.1" width="184.9" height="6.3" fill="#9494ff"/>
<rect y="2059.1" width="184.9" height="6.3" fill="#5454ff"/>
<rect y="2065.2" width="184.9" height="6.3" fill="#7d7dff"/>
<rect y="2071.2" width="184.9" height="6.3" fill="#6969ff"/>
<rect y="2077.3" width="184.9" height="6.3" fill="#5c5cff"/>
<rect y="2083.3" width="184.9" height="6.3" fill="#4f4fff"/>
<rect y="2089.3" width="184.9" height="6.3" fill="#b0b0ff"/>
<rect y="2095.4" width="184.9" height="6.3" fill="#1717ff"/>
<rect y="2101.4" width="184.9" height="6.3" fill="#ededff"/>
<rect y="2107.5" width="184.9" height="6.3" fill="#5c5cff"/>
<rect y="2113.5" width="184.9" height="6.3" fill="#4040ff"/>
<rect y="2119.5" width="184.9" height="6.3" fill="#6969ff"/>
<rect y="2125.6" width="184.9" height="6.3" fill="#6161ff"/>
<rect y="2131.6" width="184.9" height="6.3" fill="#2121ff"/>
<rect y="2137.7" width="184.9" height="6.3" fill="#4545ff"/>
<rect y="2143.7" width="184.9" height="6.3" fill="#c7c7ff"/>
<rect y="2149.7" width="184.9" height="6.3" fill="#a8a8ff"/>
<rect y="2155.8" width="184.9" height="6.3" fill="#b8b8ff"/>
<rect y="2161.8" width="184.9" height="6.3" fill="#9191ff"/>
<rect y="2167.9" width="184.9" height="6.3" fill="#b5b5ff"/>
<rect y="2173.9" width="184.9" height="12.4" fill="#c7c7ff"/>
<rect y="2186.0" width="184.9" height="6.3" fill="#99f"/>
<rect y="2192.0" width="184.9" height="12.4" fill="#b0b0ff"/>
<rect y="2204.1" width="184.9" height="6.3" fill="#7070ff"/>
<rect y="2210.1" width="184.9" height="6.3" fill="#bfbfff"/>
<rect y="2216.2" width="184.9" height="12.4" fill="#7878ff"/>
<rect y="2228.3" width="184.9" height="6.3" fill="#b0b0ff"/>
</g>
<g transform="translate(637.2 0)">
<rect y="229.0" width="183.8" height="6.3" fill="#dedeff"/>
<rect y="235.0" width="183.8" height="6.3" fill="#ff7070"/>
<rect y="241.1" width="183.8" height="6.3" fill="#fffafa"/>
<rect y="247.1" width="183.8" height="6.3" fill="#fff7f7"/>
<rect y="253.2" width="183.8" height="6.3" fill="#ff9c9c"/>
<rect y="259.2" width="183.8" height="6.3" fill="#ffc2c2"/>
<rect y="265.2" width="183.8" height="6.3" fill="#a8a8ff"/>
<rect y="271.3" width="183.8" height="6.3" fill="#ffdbdb"/>
<rect y="277.3" width="183.8" height="12.4" fill="#f5f5ff"/>
<rect y="289.4" width="183.8" height="6.3" fill="#ff7373"/>
<rect y="295.4" width="183.8" height="6.3" fill="#ff9c9c"/>
<rect y="301.5" width="183.8" height="6.3" fill="#ffdbdb"/>
<rect y="307.5" width="183.8" height="12.4" fill="#ffc9c9"/>
<rect y="319.6" width="183.8" height="6.3" fill="#ffd9d9"/>
<rect y="325.6" width="183.8" height="6.3" fill="#e0e0ff"/>
<rect y="331.7" width="183.8" height="6.3" fill="#ffc4c4"/>
<rect y="337.7" width="183.8" height="6.3" fill="#ffa8a8"/>
<rect y="343.8" width="183.8" height="6.3" fill="#ffbdbd"/>
<rect y="349.8" width="183.8" height="12.4" fill="#f0f0ff"/>
<rect y="361.9" width="183.8" height="6.3" fill="#e8e8ff"/>
<rect y="367.9" width="183.8" height="6.3" fill="#ffa1a1"/>
<rect y="374.0" width="183.8" height="6.3" fill="#ffb0b0"/>
<rect y="380.0" width="183.8" height="6.3" fill="#ffe0e0"/>
<rect y="386.0" width="183.8" height="6.3" fill="#f0f0ff"/>
<rect y="392.1" width="183.8" height="12.4" fill="#ffc2c2"/>
<rect y="404.2" width="183.8" height="12.4" fill="#ff7070"/>
<rect y="416.2" width="183.8" height="6.3" fill="#dbdbff"/>
<rect y="422.3" width="183.8" height="6.3" fill="#ffb8b8"/>
<rect y="428.3" width="183.8" height="6.3" fill="#ffe0e0"/>
<rect y="434.4" width="183.8" height="6.3" fill="#ffb0b0"/>
<rect y="440.4" width="183.8" height="6.3" fill="#ffbdbd"/>
<rect y="446.4" width="183.8" height="6.3" fill="#ff9c9c"/>
<rect y="452.5" width="183.8" height="6.3" fill="#e8e8ff"/>
<rect y="458.5" width="183.8" height="6.3" fill="#fcc"/>
<rect y="464.6" width="183.8" height="6.3" fill="#ffb8b8"/>
<rect y="470.6" width="183.8" height="6.3" fill="#ffd1d1"/>
<rect y="476.6" width="183.8" height="6.3" fill="#ffb5b5"/>
<rect y="482.7" width="183.8" height="6.3" fill="#ffd1d1"/>
<rect y="488.7" width="183.8" height="6.3" fill="#ffd9d9"/>
<rect y="494.8" width="183.8" height="6.3" fill="#ffb0b0"/>
<rect y="500.8" width="183.8" height="6.3" fill="#b8b8ff"/>
<rect y="506.8" width="183.8" height="6.3" fill="#ffe0e0"/>
<rect y="512.9" width="183.8" height="12.4" fill="#ffd1d1"/>
<rect y="525.0" width="183.8" height="6.3" fill="#ebebff"/>
<rect y="531.0" width="183.8" height="6.3" fill="#ffb0b0"/>
<rect y="537.0" width="183.8" height="6.3" fill="#ffd9d9"/>
<rect y="543.1" width="183.8" height="6.3" fill="#e8e8ff"/>
<rect y="549.1" width="183.8" height="6.3" fill="#ffa1a1"/>
<rect y="555.2" width="183.8" height="6.3" fill="#e8e8ff"/>
<rect y="561.2" width="183.8" height="12.4" fill="#fff0f0"/>
<rect y="573.3" width="183.8" height="6.3" fill="#ebebff"/>
<rect y="579.3" width="183.8" height="6.3" fill="#dbdbff"/>
<rect y="585.4" width="183.8" height="6.3" fill="#ff3838"/>
<rect y="591.4" width="183.8" height="6.3" fill="#ffd9d9"/>
<rect y="597.4" width="183.8" height="12.4" fill="#fff0f0"/>
<rect y="609.5" width="183.8" height="6.3" fill="#ffeded"/>
<rect y="615.6" width="183.8" height="6.3" fill="#dbdbff"/>
<rect y="621.6" width="183.8" height="6.3" fill="#ffd1d1"/>
<rect y="627.6" width="183.8" height="6.3" fill="#ffd4d4"/>
<rect y="633.7" width="183.8" height="6.3" fill="#ffc2c2"/>
<rect y="639.7" width="183.8" height="6.3" fill="#ffc4c4"/>
<rect y="645.8" width="183.8" height="6.3" fill="#fcc"/>
<rect y="651.8" width="183.8" height="6.3" fill="#bfbfff"/>
<rect y="657.8" width="183.8" height="6.3" fill="#d1d1ff"/>
<rect y="663.9" width="183.8" height="6.3" fill="#ffd1d1"/>
<rect y="669.9" width="183.8" height="6.3" fill="#ffb8b8"/>
<rect y="676.0" width="183.8" height="6.3" fill="#ffc2c2"/>
<rect y="682.0" width="183.8" height="6.3" fill="#ffe0e0"/>
<rect y="688.0" width="183.8" height="6.3" fill="#ffbdbd"/>
<rect y="694.1" width="183.8" height="6.3" fill="#ffc4c4"/>
<rect y="700.1" width="183.8" height="6.3" fill="#fff0f0"/>
<rect y="706.2" width="183.8" height="6.3" fill="#f0f0ff"/>
<rect y="712.2" width="183.8" height="6.3" fill="#fff5f5"/>
<rect y="718.2" width="183.8" height="6.3" fill="#fff0f0"/>
<rect y="724.3" width="183.8" height="6.3" fill="#ffc9c9"/>
<rect y="730.3" width="183.8" height="6.3" fill="#b0b0ff"/>
<rect y="736.4" width="183.8" height="6.3" fill="#8787ff"/>
<rect y="742.4" width="183.8" height="6.3" fill="#8080ff"/>
<rect y="748.4" width="183.8" height="6.3" fill="#4f4fff"/>
<rect y="754.5" width="183.8" height="6.3" fill="#8080ff"/>
<rect y="760.5" width="183.8" height="6.3" fill="#6969ff"/>
<rect y="766.6" width="183.8" height="6.3" fill="#9191ff"/>
<rect y="772.6" width="183.8" height="6.3" fill="#f0f0ff"/>
<rect y="778.6" width="183.8" height="6.3" fill="#a8a8ff"/>
<rect y="784.7" width="183.8" height="6.3" fill="#fff0f0"/>
<rect y="790.7" width="183.8" height="6.3" fill="#ffb5b5"/>
<rect y="796.8" width="183.8" height="6.3" fill="#ffc9c9"/>
<rect y="802.8" width="183.8" height="6.3" fill="#bdbdff"/>
<rect y="808.8" width="183.8" height="6.3" fill="#99f"/>
<rect y="814.9" width="183.8" height="6.3" fill="#b8b8ff"/>
<rect y="820.9" width="183.8" height="6.3" fill="#b5b5ff"/>
<rect y="827.0" width="183.8" height="6.3" fill="#9191ff"/>
<rect y="833.0" width="183.8" height="6.3" fill="#ff8080"/>
<rect y="839.0" width="183.8" height="6.3" fill="#ffe8e8"/>
<rect y="845.1" width="183.8" height="6.3" fill="#6969ff"/>
<rect y="851.1" width="183.8" height="6.3" fill="#adadff"/>
<rect y="857.2" width="183.8" height="6.3" fill="#2121ff"/>
<rect y="863.2" width="183.8" height="6.3" fill="#fff"/>
<rect y="869.2" width="183.8" height="6.3" fill="#7070ff"/>
<rect y="875.3" width="183.8" height="6.3" fill="#a1a1ff"/>
<rect y="881.3" width="183.8" height="6.3" fill="#5959ff"/>
<rect y="887.4" width="183.8" height="6.3" fill="#2929ff"/>
<rect y="893.4" width="183.8" height="6.3" fill="#ffa8a8"/>
<rect y="899.4" width="183.8" height="6.3" fill="#c4c4ff"/>
<rect y="905.5" width="183.8" height="6.3" fill="#ffadad"/>
<rect y="911.5" width="183.8" height="6.3" fill="#8c8cff"/>
<rect y="917.6" width="183.8" height="6.3" fill="#b8b8ff"/>
<rect y="923.6" width="183.8" height="6.3" fill="#7070ff"/>
<rect y="929.6" width="183.8" height="6.3" fill="#99f"/>
<rect y="935.7" width="183.8" height="6.3" fill="#b0b0ff"/>
<rect y="941.7" width="183.8" height="12.4" fill="#5c5cff"/>
<rect y="953.8" width="183.8" height="6.3" fill="#7d7dff"/>
<rect y="959.8" width="183.8" height="6.3" fill="#9191ff"/>
<rect y="965.9" width="183.8" height="6.3" fill="#99f"/>
<rect y="971.9" width="183.8" height="6.3" fill="#7d7dff"/>
<rect y="978.0" width="183.8" height="6.3" fill="#3030ff"/>
<rect y="984.0" width="183.8" height="6.3" fill="#ff9191"/>
<rect y="990.0" width="183.8" height="6.3" fill="#ff5c5c"/>
<rect y="996.1" width="183.8" height="6.3" fill="#ff6161"/>
<rect y="1002.1" width="183.8" height="6.3" fill="#ff6969"/>
<rect y="1008.2" width="183.8" height="6.3" fill="#ffc4c4"/>
<rect y="1014.2" width="183.8" height="6.3" fill="#ffd4d4"/>
<rect y="1020.2" width="183.8" height="6.3" fill="#d1d1ff"/>
<rect y="1026.3" width="183.8" height="6.3" fill="#ff7070"/>
<rect y="1032.3" width="183.8" height="6.3" fill="#ffa8a8"/>
<rect y="1038.4" width="183.8" height="6.3" fill="#ffa1a1"/>
<rect y="1044.4" width="183.8" height="6.3" fill="#ffb8b8"/>
<rect y="1050.4" width="183.8" height="6.3" fill="#fff"/>
<rect y="1056.5" width="183.8" height="6.3" fill="#ffd1d1"/>
<rect y="1062.5" width="183.8" height="6.3" fill="#fffcfc"/>
<rect y="1068.6" width="183.8" height="6.3" fill="#ff9494"/>
<rect y="1074.6" width="183.8" height="6.3" fill="#ffb8b8"/>
<rect y="1080.6" width="183.8" height="12.4" fill="#f5f5ff"/>
<rect y="1092.7" width="183.8" height="6.3" fill="#ff9191"/>
<rect y="1098.8" width="183.8" height="12.4" fill="#ffeded"/>
<rect y="1110.8" width="183.8" height="6.3" fill="#fff0f0"/>
<rect y="1116.9" width="183.8" height="6.3" fill="#ffb8b8"/>
<rect y="1122.9" width="183.8" height="6.3" fill="#ffa6a6"/>
<rect y="1129.0" width="183.8" height="6.3" fill="#ffb5b5"/>
<rect y="1135.0" width="183.8" height="6.3" fill="#fcc"/>
<rect y="1141.0" width="183.8" height="6.3" fill="#ffd9d9"/>
<rect y="1147.1" width="183.8" height="6.3" fill="#ffdbdb"/>
<rect y="1153.1" width="183.8" height="12.4" fill="#ffc9c9"/>
<rect y="1165.2" width="183.8" height="6.3" fill="#ff9191"/>
<rect y="1171.2" width="183.8" height="6.3" fill="#d1d1ff"/>
<rect y="1177.3" width="183.8" height="6.3" fill="#e0e0ff"/>
<rect y="1183.3" width="183.8" height="6.3" fill="#ffd9d9"/>
<rect y="1189.4" width="183.8" height="6.3" fill="#ffd4d4"/>
<rect y="1195.4" width="183.8" height="6.3" fill="#fffcfc"/>
<rect y="1201.4" width="183.8" height="6.3" fill="#ffb8b8"/>
<rect y="1207.5" width="183.8" height="6.3" fill="#ffc4c4"/>
<rect y="1213.5" width="183.8" height="6.3" fill="#ffeded"/>
<rect y="1219.6" width="183.8" height="6.3" fill="#ffd9d9"/>
<rect y="1225.6" width="183.8" height="6.3" fill="#fff0f0"/>
<rect y="1231.7" width="183.8" height="6.3" fill="#d1d1ff"/>
<rect y="1237.7" width="183.8" height="6.3" fill="#ffb8b8"/>
<rect y="1243.7" width="183.8" height="6.3" fill="#ffc9c9"/>
<rect y="1249.8" width="183.8" height="6.3" fill="#8080ff"/>
<rect y="1255.8" width="183.8" height="6.3" fill="#ffe8e8"/>
<rect y="1261.9" width="183.8" height="6.3" fill="#ffd1d1"/>
<rect y="1267.9" width="183.8" height="6.3" fill="#d1d1ff"/>
<rect y="1273.9" width="183.8" height="12.4" fill="#ffb8b8"/>
<rect y="1286.0" width="183.8" height="6.3" fill="#ffa8a8"/>
<rect y="1292.1" width="183.8" height="6.3" fill="#c7c7ff"/>
<rect y="1298.1" width="183.8" height="6.3" fill="#d1d1ff"/>
<rect y="1304.1" width="183.8" height="6.3" fill="#ff9494"/>
<rect y="1310.2" width="183.8" height="6.3" fill="#ffa8a8"/>
<rect y="1316.2" width="183.8" height="6.3" fill="#ededff"/>
<rect y="1322.3" width="183.8" height="6.3" fill="#ffb0b0"/>
<rect y="1328.3" width="183.8" height="6.3" fill="#ffb5b5"/>
<rect y="1334.3" width="183.8" height="6.3" fill="#fff7f7"/>
<rect y="1340.4" width="183.8" height="6.3" fill="#fff"/>
<rect y="1346.4" width="183.8" height="6.3" fill="#ffe0e0"/>
<rect y="1352.5" width="183.8" height="6.3" fill="#fff"/>
<rect y="1358.5" width="183.8" height="6.3" fill="#f5f5ff"/>
<rect y="1364.5" width="183.8" height="6.3" fill="#ffeded"/>
<rect y="1370.6" width="183.8" height="6.3" fill="#ffd1d1"/>
<rect y="1376.6" width="183.8" height="6.3" fill="#fcc"/>
<rect y="1382.7" width="183.8" height="6.3" fill="#ffd1d1"/>
<rect y="1388.7" width="183.8" height="6.3" fill="#3838ff"/>
<rect y="1394.7" width="183.8" height="6.3" fill="#8787ff"/>
<rect y="1400.8" width="183.8" height="6.3" fill="#9191ff"/>
<rect y="1406.8" width="183.8" height="12.4" fill="#a8a8ff"/>
<rect y="1418.9" width="183.8" height="6.3" fill="#9191ff"/>
<rect y="1424.9" width="183.8" height="6.3" fill="#c4c4ff"/>
<rect y="1431.0" width="183.8" height="6.3" fill="#99f"/>
<rect y="1437.0" width="183.8" height="6.3" fill="#c7c7ff"/>
<rect y="1443.1" width="183.8" height="6.3" fill="#dbdbff"/>
<rect y="1449.1" width="183.8" height="6.3" fill="#d1d1ff"/>
<rect y="1455.1" width="183.8" height="6.3" fill="#8080ff"/>
<rect y="1461.2" width="183.8" height="6.3" fill="#e0e0ff"/>
<rect y="1467.2" width="183.8" height="6.3" fill="#a8a8ff"/>
<rect y="1473.3" width="183.8" height="6.3" fill="#b0b0ff"/>
<rect y="1479.3" width="183.8" height="6.3" fill="#0f0fff"/>
<rect y="1485.3" width="183.8" height="6.3" fill="#9c9cff"/>
<rect y="1491.4" width="183.8" height="6.3" fill="#ffd1d1"/>
<rect y="1497.4" width="183.8" height="6.3" fill="#adadff"/>
<rect y="1503.5" width="183.8" height="6.3" fill="#c7c7ff"/>
<rect y="1509.5" width="183.8" height="6.3" fill="#c4c4ff"/>
<rect y="1515.5" width="183.8" height="6.3" fill="#d1d1ff"/>
<rect y="1521.6" width="183.8" height="6.3" fill="#c7c7ff"/>
<rect y="1527.6" width="183.8" height="6.3" fill="#8787ff"/>
<rect y="1533.7" width="183.8" height="6.3" fill="#a8a8ff"/>
<rect y="1539.7" width="183.8" height="6.3" fill="#ccf"/>
<rect y="1545.7" width="183.8" height="6.3" fill="#b8b8ff"/>
<rect y="1551.8" width="183.8" height="6.3" fill="#ffeded"/>
<rect y="1557.8" width="183.8" height="12.4" fill="#8c8cff"/>
<rect y="1569.9" width="183.8" height="6.3" fill="#6363ff"/>
<rect y="1575.9" width="183.8" height="6.3" fill="#9191ff"/>
<rect y="1582.0" width="183.8" height="6.3" fill="#6969ff"/>
<rect y="1588.0" width="183.8" height="6.3" fill="#ffd1d1"/>
<rect y="1594.1" width="183.8" height="6.3" fill="#f99"/>
<rect y="1600.1" width="183.8" height="6.3" fill="#ffb8b8"/>
<rect y="1606.1" width="183.8" height="6.3" fill="#ffd9d9"/>
<rect y="1612.2" width="183.8" height="6.3" fill="#8080ff"/>
<rect y="1618.2" width="183.8" height="6.3" fill="#5959ff"/>
<rect y="1624.3" width="183.8" height="6.3" fill="#a8a8ff"/>
<rect y="1630.3" width="183.8" height="6.3" fill="#5c5cff"/>
<rect y="1636.3" width="183.8" height="6.3" fill="#c7c7ff"/>
<rect y="1642.4" width="183.8" height="6.3" fill="#6161ff"/>
<rect y="1648.4" width="183.8" height="6.3" fill="#1717ff"/>
<rect y="1654.5" width="183.8" height="6.3" fill="#6161ff"/>
<rect y="1660.5" width="183.8" height="6.3" fill="#6363ff"/>
<rect y="1666.5" width="183.8" height="6.3" fill="#b0b0ff"/>
<rect y="1672.6" width="183.8" height="6.3" fill="#ffa8a8"/>
<rect y="1678.6" width="183.8" height="6.3" fill="#6969ff"/>
<rect y="1684.7" width="183.8" height="6.3" fill="#ffb8b8"/>
<rect y="1690.7" width="183.8" height="6.3" fill="#6969ff"/>
<rect y="1696.7" width="183.8" height="6.3" fill="#ffc9c9"/>
<rect y="1702.8" width="183.8" height="6.3" fill="#ffeded"/>
<rect y="1708.8" width="183.8" height="6.3" fill="#ffe0e0"/>
<rect y="1714.9" width="183.8" height="6.3" fill="#bfbfff"/>
<rect y="1720.9" width="183.8" height="6.3" fill="#bdbdff"/>
<rect y="1726.9" width="183.8" height="6.3" fill="#dbdbff"/>
<rect y="1733.0" width="183.8" height="6.3" fill="#99f"/>
<rect y="1739.0" width="183.8" height="6.3" fill="#fff"/>
<rect y="1745.1" width="183.8" height="6.3" fill="#6b6bff"/>
<rect y="1751.1" width="183.8" height="12.4" fill="#8c8cff"/>
<rect y="1763.2" width="183.8" height="6.3" fill="#99f"/>
<rect y="1769.2" width="183.8" height="6.3" fill="#bfbfff"/>
<rect y="1775.3" width="183.8" height="6.3" fill="#b0b0ff"/>
<rect y="1781.3" width="183.8" height="6.3" fill="#ffe3e3"/>
<rect y="1787.3" width="183.8" height="6.3" fill="#b0b0ff"/>
<rect y="1793.4" width="183.8" height="6.3" fill="#fff"/>
<rect y="1799.4" width="183.8" height="6.3" fill="#d9d9ff"/>
<rect y="1805.5" width="183.8" height="6.3" fill="#7d7dff"/>
<rect y="1811.5" width="183.8" height="6.3" fill="#8080ff"/>
<rect y="1817.5" width="183.8" height="6.3" fill="#5959ff"/>
<rect y="1823.6" width="183.8" height="6.3" fill="#6363ff"/>
<rect y="1829.6" width="183.8" height="6.3" fill="#6969ff"/>
<rect y="1835.7" width="183.8" height="6.3" fill="#ffd1d1"/>
<rect y="1841.7" width="183.8" height="6.3" fill="#ffeded"/>
<rect y="1847.7" width="183.8" height="6.3" fill="#ffd1d1"/>
<rect y="1853.8" width="183.8" height="6.3" fill="#ff8080"/>
<rect y="1859.8" width="183.8" height="6.3" fill="#ffd9d9"/>
<rect y="1865.9" width="183.8" height="6.3" fill="#ffb8b8"/>
<rect y="1871.9" width="183.8" height="6.3" fill="#ff4040"/>
<rect y="1877.9" width="183.8" height="6.3" fill="#ffd1d1"/>
<rect y="1884.0" width="183.8" height="6.3" fill="#ff9494"/>
<rect y="1890.0" width="183.8" height="6.3" fill="#ffd1d1"/>
<rect y="1896.1" width="183.8" height="6.3" fill="#ffc4c4"/>
<rect y="1902.1" width="183.8" height="12.4" fill="#ffc9c9"/>
<rect y="1914.2" width="183.8" height="6.3" fill="#ffa1a1"/>
<rect y="1920.2" width="183.8" height="6.3" fill="#ff8080"/>
<rect y="1926.3" width="183.8" height="12.4" fill="#ffb5b5"/>
<rect y="1938.3" width="183.8" height="6.3" fill="#ffa1a1"/>
<rect y="1944.4" width="183.8" height="6.3" fill="#ffc2c2"/>
<rect y="1950.4" width="183.8" height="6.3" fill="#ffc4c4"/>
<rect y="1956.5" width="183.8" height="6.3" fill="#ffb8b8"/>
<rect y="1962.5" width="183.8" height="6.3" fill="#ffd1d1"/>
<rect y="1968.5" width="183.8" height="6.3" fill="#a8a8ff"/>
<rect y="1974.6" width="183.8" height="6.3" fill="#ffd9d9"/>
<rect y="1980.6" width="183.8" height="6.3" fill="#ffb8b8"/>
<rect y="1986.7" width="183.8" height="6.3" fill="#ffa1a1"/>
<rect y="1992.7" width="183.8" height="6.3" fill="#e0e0ff"/>
<rect y="1998.7" width="183.8" height="6.3" fill="#ffd1d1"/>
<rect y="2004.8" width="183.8" height="6.3" fill="#ffe8e8"/>
<rect y="2010.8" width="183.8" height="6.3" fill="#ffb8b8"/>
<rect y="2016.9" width="183.8" height="6.3" fill="#fff"/>
<rect y="2022.9" width="183.8" height="6.3" fill="#ff7d7d"/>
<rect y="2028.9" width="183.8" height="6.3" fill="#ff9191"/>
<rect y="2035.0" width="183.8" height="6.3" fill="#fff5f5"/>
<rect y="2041.0" width="183.8" height="6.3" fill="#ffe8e8"/>
<rect y="2047.1" width="183.8" height="6.3" fill="#fff7f7"/>
<rect y="2053.1" width="183.8" height="6.3" fill="#ffe8e8"/>
<rect y="2059.1" width="183.8" height="6.3" fill="#9c9cff"/>
<rect y="2065.2" width="183.8" height="6.3" fill="#ffc4c4"/>
<rect y="2071.2" width="183.8" height="6.3" fill="#ffc9c9"/>
<rect y="2077.3" width="183.8" height="6.3" fill="#ffd9d9"/>
<rect y="2083.3" width="183.8" height="6.3" fill="#ffdbdb"/>
<rect y="2089.3" width="183.8" height="6.3" fill="#ffa8a8"/>
<rect y="2095.4" width="183.8" height="18.4" fill="#ffe0e0"/>
<rect y="2113.5" width="183.8" height="6.3" fill="#ffeded"/>
<rect y="2119.5" width="183.8" height="6.3" fill="#ffe8e8"/>
<rect y="2125.6" width="183.8" height="6.3" fill="#ffe0e0"/>
<rect y="2131.6" width="183.8" height="6.3" fill="#ffd4d4"/>
<rect y="2137.7" width="183.8" height="6.3" fill="#ffc2c2"/>
<rect y="2143.7" width="183.8" height="6.3" fill="#ffb5b5"/>
<rect y="2149.7" width="183.8" height="6.3" fill="#ffa8a8"/>
<rect y="2155.8" width="183.8" height="6.3" fill="#d1d1ff"/>
<rect y="2161.8" width="183.8" height="12.4" fill="#fcc"/>
<rect y="2173.9" width="183.8" height="6.3" fill="#ffb8b8"/>
<rect y="2179.9" width="183.8" height="6.3" fill="#ffb0b0"/>
<rect y="2186.0" width="183.8" height="18.4" fill="#ffb8b8"/>
<rect y="2204.1" width="183.8" height="6.3" fill="#e0e0ff"/>
<rect y="2210.1" width="183.8" height="6.3" fill="#fcc"/>
<rect y="2216.2" width="183.8" height="6.3" fill="#ff9c9c"/>
<rect y="2222.2" width="183.8" height="6.3" fill="#ffc9c9"/>
<rect y="2228.3" width="183.8" height="6.3" fill="#fffafa"/>
</g>
<g transform="translate(820.7 0)">
<rect y="229.0" width="185.2" height="12.4" fill="#8c8cff"/>
<rect y="241.1" width="185.2" height="6.3" fill="#a8a8ff"/>
<rect y="247.1" width="185.2" height="6.3" fill="#b5b5ff"/>
<rect y="253.2" width="185.2" height="6.3" fill="#8c8cff"/>
<rect y="259.2" width="185.2" height="6.3" fill="#99f"/>
<rect y="265.2" width="185.2" height="6.3" fill="#a8a8ff"/>
<rect y="271.3" width="185.2" height="6.3" fill="#8c8cff"/>
<rect y="277.3" width="185.2" height="6.3" fill="#99f"/>
<rect y="283.4" width="185.2" height="6.3" fill="#b8b8ff"/>
<rect y="289.4" width="185.2" height="6.3" fill="#a1a1ff"/>
<rect y="295.4" width="185.2" height="6.3" fill="#7878ff"/>
<rect y="301.5" width="185.2" height="6.3" fill="#dbdbff"/>
<rect y="307.5" width="185.2" height="12.4" fill="#f7f7ff"/>
<rect y="319.6" width="185.2" height="6.3" fill="#c4c4ff"/>
<rect y="325.6" width="185.2" height="6.3" fill="#ededff"/>
<rect y="331.7" width="185.2" height="6.3" fill="#e0e0ff"/>
<rect y="337.7" width="185.2" height="6.3" fill="#d4d4ff"/>
<rect y="343.8" width="185.2" height="6.3" fill="#ededff"/>
<rect y="349.8" width="185.2" height="6.3" fill="#8080ff"/>
<rect y="355.8" width="185.2" height="6.3" fill="#a3a3ff"/>
<rect y="361.9" width="185.2" height="6.3" fill="#b0b0ff"/>
<rect y="367.9" width="185.2" height="6.3" fill="#b8b8ff"/>
<rect y="374.0" width="185.2" height="6.3" fill="#ededff"/>
<rect y="380.0" width="185.2" height="6.3" fill="#8080ff"/>
<rect y="386.0" width="185.2" height="6.3" fill="#8787ff"/>
<rect y="392.1" width="185.2" height="12.4" fill="#f0f0ff"/>
<rect y="404.2" width="185.2" height="6.3" fill="#a3a3ff"/>
<rect y="410.2" width="185.2" height="6.3" fill="#bfbfff"/>
<rect y="416.2" width="185.2" height="6.3" fill="#d1d1ff"/>
<rect y="422.3" width="185.2" height="6.3" fill="#b8b8ff"/>
<rect y="428.3" width="185.2" height="6.3" fill="#8787ff"/>
<rect y="434.4" width="185.2" height="6.3" fill="#bfbfff"/>
<rect y="440.4" width="185.2" height="6.3" fill="#7878ff"/>
<rect y="446.4" width="185.2" height="6.3" fill="#c4c4ff"/>
<rect y="452.5" width="185.2" height="6.3" fill="#b0b0ff"/>
<rect y="458.5" width="185.2" height="12.4" fill="#b8b8ff"/>
<rect y="470.6" width="185.2" height="6.3" fill="#f7f7ff"/>
<rect y="476.6" width="185.2" height="6.3" fill="#c7c7ff"/>
<rect y="482.7" width="185.2" height="6.3" fill="#a1a1ff"/>
<rect y="488.7" width="185.2" height="6.3" fill="#bfbfff"/>
<rect y="494.8" width="185.2" height="6.3" fill="#7070ff"/>
<rect y="500.8" width="185.2" height="6.3" fill="#ffeded"/>
<rect y="506.8" width="185.2" height="6.3" fill="#fff"/>
<rect y="512.9" width="185.2" height="6.3" fill="#4040ff"/>
<rect y="518.9" width="185.2" height="6.3" fill="#a1a1ff"/>
<rect y="525.0" width="185.2" height="6.3" fill="#bdbdff"/>
<rect y="531.0" width="185.2" height="6.3" fill="#6969ff"/>
<rect y="537.0" width="185.2" height="6.3" fill="#9c9cff"/>
<rect y="543.1" width="185.2" height="12.4" fill="#fff"/>
<rect y="555.2" width="185.2" height="6.3" fill="#7d7dff"/>
<rect y="561.2" width="185.2" height="6.3" fill="#9494ff"/>
<rect y="567.2" width="185.2" height="6.3" fill="#b8b8ff"/>
<rect y="573.3" width="185.2" height="6.3" fill="#ccf"/>
<rect y="579.3" width="185.2" height="6.3" fill="#f5f5ff"/>
<rect y="585.4" width="185.2" height="6.3" fill="#c4c4ff"/>
<rect y="591.4" width="185.2" height="12.4" fill="#dbdbff"/>
<rect y="603.5" width="185.2" height="6.3" fill="#8c8cff"/>
<rect y="609.5" width="185.2" height="6.3" fill="#a8a8ff"/>
<rect y="615.6" width="185.2" height="6.3" fill="#99f"/>
<rect y="621.6" width="185.2" height="6.3" fill="#b8b8ff"/>
<rect y="627.6" width="185.2" height="6.3" fill="#fff"/>
<rect y="633.7" width="185.2" height="12.4" fill="#a8a8ff"/>
<rect y="645.8" width="185.2" height="6.3" fill="#bdbdff"/>
<rect y="651.8" width="185.2" height="12.4" fill="#9c9cff"/>
<rect y="663.9" width="185.2" height="6.3" fill="#a3a3ff"/>
<rect y="669.9" width="185.2" height="12.4" fill="#b5b5ff"/>
<rect y="682.0" width="185.2" height="6.3" fill="#5959ff"/>
<rect y="688.0" width="185.2" height="6.3" fill="#bfbfff"/>
<rect y="694.1" width="185.2" height="6.3" fill="#a8a8ff"/>
<rect y="700.1" width="185.2" height="12.4" fill="#9191ff"/>
<rect y="712.2" width="185.2" height="6.3" fill="#bfbfff"/>
<rect y="718.2" width="185.2" height="6.3" fill="#c4c4ff"/>
<rect y="724.3" width="185.2" height="6.3" fill="#ffe0e0"/>
<rect y="730.3" width="185.2" height="6.3" fill="#e3e3ff"/>
<rect y="736.4" width="185.2" height="6.3" fill="#ffe0e0"/>
<rect y="742.4" width="185.2" height="6.3" fill="#fff0f0"/>
<rect y="748.4" width="185.2" height="6.3" fill="#fff7f7"/>
<rect y="754.5" width="185.2" height="6.3" fill="#ff9c9c"/>
<rect y="760.5" width="185.2" height="6.3" fill="#ff6969"/>
<rect y="766.6" width="185.2" height="6.3" fill="#fff0f0"/>
<rect y="772.6" width="185.2" height="6.3" fill="#ffb0b0"/>
<rect y="778.6" width="185.2" height="6.3" fill="#fcfcff"/>
<rect y="784.7" width="185.2" height="6.3" fill="#ffb8b8"/>
<rect y="790.7" width="185.2" height="6.3" fill="#6161ff"/>
<rect y="796.8" width="185.2" height="6.3" fill="#c7c7ff"/>
<rect y="802.8" width="185.2" height="6.3" fill="#e0e0ff"/>
<rect y="808.8" width="185.2" height="6.3" fill="#fcc"/>
<rect y="814.9" width="185.2" height="6.3" fill="#ffb8b8"/>
<rect y="820.9" width="185.2" height="6.3" fill="#fffcfc"/>
<rect y="827.0" width="185.2" height="6.3" fill="#ffb8b8"/>
<rect y="833.0" width="185.2" height="6.3" fill="#c7c7ff"/>
<rect y="839.0" width="185.2" height="6.3" fill="#ff8c8c"/>
<rect y="845.1" width="185.2" height="6.3" fill="#ffc9c9"/>
<rect y="851.1" width="185.2" height="12.4" fill="#fcfcff"/>
<rect y="863.2" width="185.2" height="6.3" fill="#ffe0e0"/>
<rect y="869.2" width="185.2" height="6.3" fill="#ffd4d4"/>
<rect y="875.3" width="185.2" height="6.3" fill="#ffc2c2"/>
<rect y="881.3" width="185.2" height="6.3" fill="#ffa1a1"/>
<rect y="887.4" width="185.2" height="6.3" fill="#ffa8a8"/>
<rect y="893.4" width="185.2" height="6.3" fill="#ff7878"/>
<rect y="899.4" width="185.2" height="6.3" fill="#ffc4c4"/>
<rect y="905.5" width="185.2" height="6.3" fill="#ffc9c9"/>
<rect y="911.5" width="185.2" height="6.3" fill="#ffbdbd"/>
<rect y="917.6" width="185.2" height="6.3" fill="#ffb8b8"/>
<rect y="923.6" width="185.2" height="6.3" fill="#fff5f5"/>
<rect y="929.6" width="185.2" height="6.3" fill="#ffb0b0"/>
<rect y="935.7" width="185.2" height="6.3" fill="#99f"/>
<rect y="941.7" width="185.2" height="6.3" fill="#ffc2c2"/>
<rect y="947.8" width="185.2" height="6.3" fill="#ffe0e0"/>
<rect y="953.8" width="185.2" height="6.3" fill="#ffdbdb"/>
<rect y="959.8" width="185.2" height="6.3" fill="#ffd9d9"/>
<rect y="965.9" width="185.2" height="6.3" fill="#ff9c9c"/>
<rect y="971.9" width="185.2" height="6.3" fill="#ffb0b0"/>
<rect y="978.0" width="185.2" height="6.3" fill="#ffc9c9"/>
<rect y="984.0" width="185.2" height="6.3" fill="#fff"/>
<rect y="990.0" width="185.2" height="6.3" fill="#ffbdbd"/>
<rect y="996.1" width="185.2" height="6.3" fill="#ffb8b8"/>
<rect y="1002.1" width="185.2" height="6.3" fill="#ffd9d9"/>
<rect y="1008.2" width="185.2" height="6.3" fill="#ffeded"/>
<rect y="1014.2" width="185.2" height="6.3" fill="#fff"/>
<rect y="1020.2" width="185.2" height="6.3" fill="#ffb8b8"/>
<rect y="1026.3" width="185.2" height="6.3" fill="#ffb0b0"/>
<rect y="1032.3" width="185.2" height="6.3" fill="#ffd9d9"/>
<rect y="1038.4" width="185.2" height="6.3" fill="#ffe0e0"/>
<rect y="1044.4" width="185.2" height="6.3" fill="#fff"/>
<rect y="1050.4" width="185.2" height="12.4" fill="#ffa6a6"/>
<rect y="1062.5" width="185.2" height="6.3" fill="#ff4747"/>
<rect y="1068.6" width="185.2" height="6.3" fill="#ff7878"/>
<rect y="1074.6" width="185.2" height="6.3" fill="#ff9191"/>
<rect y="1080.6" width="185.2" height="6.3" fill="#ff7070"/>
<rect y="1086.7" width="185.2" height="6.3" fill="#ff7d7d"/>
<rect y="1092.7" width="185.2" height="6.3" fill="#ffa1a1"/>
<rect y="1098.8" width="185.2" height="6.3" fill="#ffd1d1"/>
<rect y="1104.8" width="185.2" height="6.3" fill="#ffb0b0"/>
<rect y="1110.8" width="185.2" height="6.3" fill="#ff9191"/>
<rect y="1116.9" width="185.2" height="6.3" fill="#ffb5b5"/>
<rect y="1122.9" width="185.2" height="6.3" fill="#ff3030"/>
<rect y="1129.0" width="185.2" height="6.3" fill="#ff8c8c"/>
<rect y="1135.0" width="185.2" height="6.3" fill="#ff4747"/>
<rect y="1141.0" width="185.2" height="6.3" fill="#ff8c8c"/>
<rect y="1147.1" width="185.2" height="6.3" fill="#ff9494"/>
<rect y="1153.1" width="185.2" height="6.3" fill="#ffa1a1"/>
<rect y="1159.2" width="185.2" height="6.3" fill="#ff8c8c"/>
<rect y="1165.2" width="185.2" height="6.3" fill="#ffa6a6"/>
<rect y="1171.2" width="185.2" height="6.3" fill="#ffb0b0"/>
<rect y="1177.3" width="185.2" height="6.3" fill="#ffd4d4"/>
<rect y="1183.3" width="185.2" height="6.3" fill="#fff"/>
<rect y="1189.4" width="185.2" height="6.3" fill="#ff7878"/>
<rect y="1195.4" width="185.2" height="6.3" fill="#ff8080"/>
<rect y="1201.4" width="185.2" height="6.3" fill="#ff5c5c"/>
<rect y="1207.5" width="185.2" height="6.3" fill="#ff5959"/>
<rect y="1213.5" width="185.2" height="6.3" fill="#ff4f4f"/>
<rect y="1219.6" width="185.2" height="12.4" fill="#ffd9d9"/>
<rect y="1231.7" width="185.2" height="6.3" fill="#ff8c8c"/>
<rect y="1237.7" width="185.2" height="6.3" fill="#ffc4c4"/>
<rect y="1243.7" width="185.2" height="6.3" fill="#ffd4d4"/>
<rect y="1249.8" width="185.2" height="6.3" fill="#ff7d7d"/>
<rect y="1255.8" width="185.2" height="6.3" fill="#ffa1a1"/>
<rect y="1261.9" width="185.2" height="6.3" fill="#ffb0b0"/>
<rect y="1267.9" width="185.2" height="6.3" fill="#ff5c5c"/>
<rect y="1273.9" width="185.2" height="6.3" fill="#ff9191"/>
<rect y="1280.0" width="185.2" height="6.3" fill="#ffd1d1"/>
<rect y="1286.0" width="185.2" height="6.3" fill="#ff6b6b"/>
<rect y="1292.1" width="185.2" height="6.3" fill="#ff7070"/>
<rect y="1298.1" width="185.2" height="6.3" fill="#ffe0e0"/>
<rect y="1304.1" width="185.2" height="6.3" fill="#ff5959"/>
<rect y="1310.2" width="185.2" height="6.3" fill="#f99"/>
<rect y="1316.2" width="185.2" height="6.3" fill="#ffa8a8"/>
<rect y="1322.3" width="185.2" height="6.3" fill="#ffd4d4"/>
<rect y="1328.3" width="185.2" height="6.3" fill="#ff9494"/>
<rect y="1334.3" width="185.2" height="6.3" fill="#ffa1a1"/>
<rect y="1340.4" width="185.2" height="6.3" fill="#f0f0ff"/>
<rect y="1346.4" width="185.2" height="6.3" fill="#ffd1d1"/>
<rect y="1352.5" width="185.2" height="6.3" fill="#ff1919"/>
<rect y="1358.5" width="185.2" height="6.3" fill="#ffb8b8"/>
<rect y="1364.5" width="185.2" height="6.3" fill="#ffd9d9"/>
<rect y="1370.6" width="185.2" height="6.3" fill="#ffd1d1"/>
<rect y="1376.6" width="185.2" height="6.3" fill="#ff5c5c"/>
<rect y="1382.7" width="185.2" height="6.3" fill="#fff5f5"/>
<rect y="1388.7" width="185.2" height="6.3" fill="#a3a3ff"/>
<rect y="1394.7" width="185.2" height="6.3" fill="#b8b8ff"/>
<rect y="1400.8" width="185.2" height="6.3" fill="#7575ff"/>
<rect y="1406.8" width="185.2" height="6.3" fill="#adadff"/>
<rect y="1412.9" width="185.2" height="6.3" fill="#6161ff"/>
<rect y="1418.9" width="185.2" height="6.3" fill="#a8a8ff"/>
<rect y="1424.9" width="185.2" height="6.3" fill="#bfbfff"/>
<rect y="1431.0" width="185.2" height="6.3" fill="#ababff"/>
<rect y="1437.0" width="185.2" height="6.3" fill="#e0e0ff"/>
<rect y="1443.1" width="185.2" height="6.3" fill="#a1a1ff"/>
<rect y="1449.1" width="185.2" height="6.3" fill="#ffd9d9"/>
<rect y="1455.1" width="185.2" height="6.3" fill="#fff"/>
<rect y="1461.2" width="185.2" height="6.3" fill="#ededff"/>
<rect y="1467.2" width="185.2" height="6.3" fill="#dbdbff"/>
<rect y="1473.3" width="185.2" height="6.3" fill="#a8a8ff"/>
<rect y="1479.3" width="185.2" height="6.3" fill="#f99"/>
<rect y="1485.3" width="185.2" height="6.3" fill="#ff7070"/>
<rect y="1491.4" width="185.2" height="6.3" fill="#ffd9d9"/>
<rect y="1497.4" width="185.2" height="6.3" fill="#ffe0e0"/>
<rect y="1503.5" width="185.2" height="6.3" fill="#ffdbdb"/>
<rect y="1509.5" width="185.2" height="12.4" fill="#f0f0ff"/>
<rect y="1521.6" width="185.2" height="6.3" fill="#fff5f5"/>
<rect y="1527.6" width="185.2" height="6.3" fill="#ff9c9c"/>
<rect y="1533.7" width="185.2" height="6.3" fill="#ffa8a8"/>
<rect y="1539.7" width="185.2" height="6.3" fill="#99f"/>
<rect y="1545.7" width="185.2" height="6.3" fill="#ffd1d1"/>
<rect y="1551.8" width="185.2" height="6.3" fill="#ffc4c4"/>
<rect y="1557.8" width="185.2" height="6.3" fill="#99f"/>
<rect y="1563.9" width="185.2" height="6.3" fill="#ff7878"/>
<rect y="1569.9" width="185.2" height="6.3" fill="#ffd4d4"/>
<rect y="1575.9" width="185.2" height="6.3" fill="#dbdbff"/>
<rect y="1582.0" width="185.2" height="6.3" fill="#ff8080"/>
<rect y="1588.0" width="185.2" height="6.3" fill="#9191ff"/>
<rect y="1594.1" width="185.2" height="6.3" fill="#ffb8b8"/>
<rect y="1600.1" width="185.2" height="6.3" fill="#99f"/>
<rect y="1606.1" width="185.2" height="6.3" fill="#bfbfff"/>
<rect y="1612.2" width="185.2" height="6.3" fill="#ffa8a8"/>
<rect y="1618.2" width="185.2" height="6.3" fill="#ff9191"/>
<rect y="1624.3" width="185.2" height="6.3" fill="#ff8c8c"/>
<rect y="1630.3" width="185.2" height="6.3" fill="#ff6b6b"/>
<rect y="1636.3" width="185.2" height="6.3" fill="#ffb0b0"/>
<rect y="1642.4" width="185.2" height="6.3" fill="#7d7dff"/>
<rect y="1648.4" width="185.2" height="12.4" fill="#ffd1d1"/>
<rect y="1660.5" width="185.2" height="6.3" fill="#fff"/>
<rect y="1666.5" width="185.2" height="6.3" fill="#ff9191"/>
<rect y="1672.6" width="185.2" height="6.3" fill="#ffa1a1"/>
<rect y="1678.6" width="185.2" height="6.3" fill="#ffadad"/>
<rect y="1684.7" width="185.2" height="6.3" fill="#ff8c8c"/>
<rect y="1690.7" width="185.2" height="6.3" fill="#ffd1d1"/>
<rect y="1696.7" width="185.2" height="6.3" fill="#fff5f5"/>
<rect y="1702.8" width="185.2" height="6.3" fill="#a8a8ff"/>
<rect y="1708.8" width="185.2" height="6.3" fill="#d9d9ff"/>
<rect y="1714.9" width="185.2" height="6.3" fill="#fff5f5"/>
<rect y="1720.9" width="185.2" height="6.3" fill="#ffc4c4"/>
<rect y="1726.9" width="185.2" height="6.3" fill="#c7c7ff"/>
<rect y="1733.0" width="185.2" height="6.3" fill="#dbdbff"/>
<rect y="1739.0" width="185.2" height="6.3" fill="#ffa8a8"/>
<rect y="1745.1" width="185.2" height="6.3" fill="#a8a8ff"/>
<rect y="1751.1" width="185.2" height="6.3" fill="#ffd1d1"/>
<rect y="1757.1" width="185.2" height="6.3" fill="#bfbfff"/>
<rect y="1763.2" width="185.2" height="6.3" fill="#a8a8ff"/>
<rect y="1769.2" width="185.2" height="6.3" fill="#c4c4ff"/>
<rect y="1775.3" width="185.2" height="6.3" fill="#bfbfff"/>
<rect y="1781.3" width="185.2" height="6.3" fill="#e0e0ff"/>
<rect y="1787.3" width="185.2" height="6.3" fill="#a8a8ff"/>
<rect y="1793.4" width="185.2" height="6.3" fill="#a1a1ff"/>
<rect y="1799.4" width="185.2" height="6.3" fill="#9191ff"/>
<rect y="1805.5" width="185.2" height="6.3" fill="#7878ff"/>
<rect y="1811.5" width="185.2" height="6.3" fill="#ff8787"/>
<rect y="1817.5" width="185.2" height="6.3" fill="#f0f0ff"/>
<rect y="1823.6" width="185.2" height="6.3" fill="#a1a1ff"/>
<rect y="1829.6" width="185.2" height="6.3" fill="#ff8c8c"/>
<rect y="1835.7" width="185.2" height="6.3" fill="#8787ff"/>
<rect y="1841.7" width="185.2" height="6.3" fill="#bfbfff"/>
<rect y="1847.7" width="185.2" height="6.3" fill="#fff"/>
<rect y="1853.8" width="185.2" height="6.3" fill="#d9d9ff"/>
<rect y="1859.8" width="185.2" height="6.3" fill="#9494ff"/>
<rect y="1865.9" width="185.2" height="6.3" fill="#a8a8ff"/>
<rect y="1871.9" width="185.2" height="6.3" fill="#ffe8e8"/>
<rect y="1877.9" width="185.2" height="6.3" fill="#d1d1ff"/>
<rect y="1884.0" width="185.2" height="6.3" fill="#9494ff"/>
<rect y="1890.0" width="185.2" height="6.3" fill="#b5b5ff"/>
<rect y="1896.1" width="185.2" height="6.3" fill="#bfbfff"/>
<rect y="1902.1" width="185.2" height="6.3" fill="#a8a8ff"/>
<rect y="1908.1" width="185.2" height="6.3" fill="#d9d9ff"/>
<rect y="1914.2" width="185.2" height="6.3" fill="#c7c7ff"/>
<rect y="1920.2" width="185.2" height="6.3" fill="#8c8cff"/>
<rect y="1926.3" width="185.2" height="6.3" fill="#e3e3ff"/>
<rect y="1932.3" width="185.2" height="6.3" fill="#f7f7ff"/>
<rect y="1938.3" width="185.2" height="6.3" fill="#b8b8ff"/>
<rect y="1944.4" width="185.2" height="6.3" fill="#bfbfff"/>
<rect y="1950.4" width="185.2" height="6.3" fill="#e8e8ff"/>
<rect y="1956.5" width="185.2" height="6.3" fill="#ff9191"/>
<rect y="1962.5" width="185.2" height="6.3" fill="#8787ff"/>
<rect y="1968.5" width="185.2" height="6.3" fill="#ffb8b8"/>
<rect y="1974.6" width="185.2" height="6.3" fill="#ff9191"/>
<rect y="1980.6" width="185.2" height="6.3" fill="#99f"/>
<rect y="1986.7" width="185.2" height="6.3" fill="#ff4747"/>
<rect y="1992.7" width="185.2" height="6.3" fill="#ffd1d1"/>
<rect y="1998.7" width="185.2" height="6.3" fill="#ff5959"/>
<rect y="2004.8" width="185.2" height="6.3" fill="#ffc4c4"/>
<rect y="2010.8" width="185.2" height="6.3" fill="#bfbfff"/>
<rect y="2016.9" width="185.2" height="6.3" fill="#d1d1ff"/>
<rect y="2022.9" width="185.2" height="6.3" fill="#ff9494"/>
<rect y="2028.9" width="185.2" height="6.3" fill="#ffb8b8"/>
<rect y="2035.0" width="185.2" height="6.3" fill="#d1d1ff"/>
<rect y="2041.0" width="185.2" height="6.3" fill="#6b6bff"/>
<rect y="2047.1" width="185.2" height="6.3" fill="#ffb0b0"/>
<rect y="2053.1" width="185.2" height="6.3" fill="#ffc4c4"/>
<rect y="2059.1" width="185.2" height="6.3" fill="#7878ff"/>
<rect y="2065.2" width="185.2" height="6.3" fill="#dbdbff"/>
<rect y="2071.2" width="185.2" height="6.3" fill="#fff"/>
<rect y="2077.3" width="185.2" height="6.3" fill="#ffa8a8"/>
<rect y="2083.3" width="185.2" height="6.3" fill="#9494ff"/>
<rect y="2089.3" width="185.2" height="6.3" fill="#ffc4c4"/>
<rect y="2095.4" width="185.2" height="6.3" fill="#ffd9d9"/>
<rect y="2101.4" width="185.2" height="12.4" fill="#fff"/>
<rect y="2113.5" width="185.2" height="6.3" fill="#ffeded"/>
<rect y="2119.5" width="185.2" height="12.4" fill="#ffd9d9"/>
<rect y="2131.6" width="185.2" height="6.3" fill="#ff6b6b"/>
<rect y="2137.7" width="185.2" height="6.3" fill="#d1d1ff"/>
<rect y="2143.7" width="185.2" height="6.3" fill="#ffeded"/>
<rect y="2149.7" width="185.2" height="6.3" fill="#ffb0b0"/>
<rect y="2155.8" width="185.2" height="6.3" fill="#ededff"/>
<rect y="2161.8" width="185.2" height="6.3" fill="#dbdbff"/>
<rect y="2167.9" width="185.2" height="6.3" fill="#c7c7ff"/>
<rect y="2173.9" width="185.2" height="6.3" fill="#e0e0ff"/>
<rect y="2179.9" width="185.2" height="6.3" fill="#e3e3ff"/>
<rect y="2186.0" width="185.2" height="6.3" fill="#c4c4ff"/>
<rect y="2192.0" width="185.2" height="6.3" fill="#ffb5b5"/>
<rect y="2198.1" width="185.2" height="6.3" fill="#ffd4d4"/>
<rect y="2204.1" width="185.2" height="6.3" fill="#7d7dff"/>
<rect y="2210.1" width="185.2" height="6.3" fill="#ccf"/>
<rect y="2216.2" width="185.2" height="6.3" fill="#b5b5ff"/>
<rect y="2222.2" width="185.2" height="6.3" fill="#fcc"/>
<rect y="2228.3" width="185.2" height="6.3" fill="#8c8cff"/>
</g>
<g transform="translate(1005.6 0)">
<rect y="229.0" width="183.1" height="6.3" fill="#6161ff"/>
<rect y="235.0" width="183.1" height="6.3" fill="#ff9c9c"/>
<rect y="241.1" width="183.1" height="6.3" fill="#e3e3ff"/>
<rect y="247.1" width="183.1" height="6.3" fill="#ffdede"/>
<rect y="253.2" width="183.1" height="6.3" fill="#bfbfff"/>
<rect y="259.2" width="183.1" height="6.3" fill="#f7f7ff"/>
<rect y="265.2" width="183.1" height="6.3" fill="#ffc4c4"/>
<rect y="271.3" width="183.1" height="6.3" fill="#a8a8ff"/>
<rect y="277.3" width="183.1" height="6.3" fill="#f0f0ff"/>
<rect y="283.4" width="183.1" height="6.3" fill="#f5f5ff"/>
<rect y="289.4" width="183.1" height="6.3" fill="#e8e8ff"/>
<rect y="295.4" width="183.1" height="6.3" fill="#a1a1ff"/>
<rect y="301.5" width="183.1" height="6.3" fill="#fafaff"/>
<rect y="307.5" width="183.1" height="6.3" fill="#fff"/>
<rect y="313.6" width="183.1" height="6.3" fill="#fcfcff"/>
<rect y="319.6" width="183.1" height="6.3" fill="#d6d6ff"/>
<rect y="325.6" width="183.1" height="6.3" fill="#fff5f5"/>
<rect y="331.7" width="183.1" height="6.3" fill="#ffd4d4"/>
<rect y="337.7" width="183.1" height="6.3" fill="#ffb5b5"/>
<rect y="343.8" width="183.1" height="6.3" fill="#e0e0ff"/>
<rect y="349.8" width="183.1" height="6.3" fill="#c7c7ff"/>
<rect y="355.8" width="183.1" height="6.3" fill="#ff9c9c"/>
<rect y="361.9" width="183.1" height="6.3" fill="#f0f0ff"/>
<rect y="367.9" width="183.1" height="6.3" fill="#ffdbdb"/>
<rect y="374.0" width="183.1" height="6.3" fill="#c4c4ff"/>
<rect y="380.0" width="183.1" height="6.3" fill="#d1d1ff"/>
<rect y="386.0" width="183.1" height="6.3" fill="#a8a8ff"/>
<rect y="392.1" width="183.1" height="12.4" fill="#ffe3e3"/>
<rect y="404.2" width="183.1" height="6.3" fill="#ffb0b0"/>
<rect y="410.2" width="183.1" height="6.3" fill="#f7f7ff"/>
<rect y="416.2" width="183.1" height="6.3" fill="#ffc7c7"/>
<rect y="422.3" width="183.1" height="12.4" fill="#d1d1ff"/>
<rect y="434.4" width="183.1" height="6.3" fill="#ffd9d9"/>
<rect y="440.4" width="183.1" height="6.3" fill="#c7c7ff"/>
<rect y="446.4" width="183.1" height="6.3" fill="#ededff"/>
<rect y="452.5" width="183.1" height="6.3" fill="#b0b0ff"/>
<rect y="458.5" width="183.1" height="6.3" fill="#e0e0ff"/>
<rect y="464.6" width="183.1" height="6.3" fill="#f5f5ff"/>
<rect y="470.6" width="183.1" height="6.3" fill="#d1d1ff"/>
<rect y="476.6" width="183.1" height="6.3" fill="#b5b5ff"/>
<rect y="482.7" width="183.1" height="6.3" fill="#b8b8ff"/>
<rect y="488.7" width="183.1" height="6.3" fill="#ffb0b0"/>
<rect y="494.8" width="183.1" height="6.3" fill="#e3e3ff"/>
<rect y="500.8" width="183.1" height="6.3" fill="#e0e0ff"/>
<rect y="506.8" width="183.1" height="6.3" fill="#c7c7ff"/>
<rect y="512.9" width="183.1" height="6.3" fill="#ffb0b0"/>
<rect y="518.9" width="183.1" height="6.3" fill="#fff0f0"/>
<rect y="525.0" width="183.1" height="6.3" fill="#8c8cff"/>
<rect y="531.0" width="183.1" height="6.3" fill="#9c9cff"/>
<rect y="537.0" width="183.1" height="6.3" fill="#a8a8ff"/>
<rect y="543.1" width="183.1" height="6.3" fill="#b0b0ff"/>
<rect y="549.1" width="183.1" height="6.3" fill="#f0f0ff"/>
<rect y="555.2" width="183.1" height="6.3" fill="#9191ff"/>
<rect y="561.2" width="183.1" height="6.3" fill="#8080ff"/>
<rect y="567.2" width="183.1" height="6.3" fill="#9191ff"/>
<rect y="573.3" width="183.1" height="6.3" fill="#b8b8ff"/>
<rect y="579.3" width="183.1" height="6.3" fill="#ffe0e0"/>
<rect y="585.4" width="183.1" height="6.3" fill="#d4d4ff"/>
<rect y="591.4" width="183.1" height="6.3" fill="#e3e3ff"/>
<rect y="597.4" width="183.1" height="6.3" fill="#fcfcff"/>
<rect y="603.5" width="183.1" height="6.3" fill="#fff5f5"/>
<rect y="609.5" width="183.1" height="6.3" fill="#ffa8a8"/>
<rect y="615.6" width="183.1" height="6.3" fill="#d1d1ff"/>
<rect y="621.6" width="183.1" height="6.3" fill="#c4c4ff"/>
<rect y="627.6" width="183.1" height="6.3" fill="#b0b0ff"/>
<rect y="633.7" width="183.1" height="6.3" fill="#c7c7ff"/>
<rect y="639.7" width="183.1" height="6.3" fill="#ffbdbd"/>
<rect y="645.8" width="183.1" height="6.3" fill="#fff0f0"/>
<rect y="651.8" width="183.1" height="6.3" fill="#d1d1ff"/>
<rect y="657.8" width="183.1" height="6.3" fill="#fff"/>
<rect y="663.9" width="183.1" height="6.3" fill="#d4d4ff"/>
<rect y="669.9" width="183.1" height="6.3" fill="#f5f5ff"/>
<rect y="676.0" width="183.1" height="6.3" fill="#d1d1ff"/>
<rect y="682.0" width="183.1" height="6.3" fill="#b0b0ff"/>
<rect y="688.0" width="183.1" height="6.3" fill="#c4c4ff"/>
<rect y="694.1" width="183.1" height="6.3" fill="#9494ff"/>
<rect y="700.1" width="183.1" height="6.3" fill="#c7c7ff"/>
<rect y="706.2" width="183.1" height="6.3" fill="#c4c4ff"/>
<rect y="712.2" width="183.1" height="6.3" fill="#b5b5ff"/>
<rect y="718.2" width="183.1" height="6.3" fill="#8585ff"/>
<rect y="724.3" width="183.1" height="6.3" fill="#ff9c9c"/>
<rect y="730.3" width="183.1" height="6.3" fill="#f99"/>
<rect y="736.4" width="183.1" height="6.3" fill="#ffb5b5"/>
<rect y="742.4" width="183.1" height="6.3" fill="#ff9191"/>
<rect y="748.4" width="183.1" height="6.3" fill="#ffc2c2"/>
<rect y="754.5" width="183.1" height="12.4" fill="#ff3838"/>
<rect y="766.6" width="183.1" height="6.3" fill="#ff9c9c"/>
<rect y="772.6" width="183.1" height="6.3" fill="#ff8080"/>
<rect y="778.6" width="183.1" height="6.3" fill="#ff7070"/>
<rect y="784.7" width="183.1" height="6.3" fill="#ff6161"/>
<rect y="790.7" width="183.1" height="6.3" fill="#ff4f4f"/>
<rect y="796.8" width="183.1" height="6.3" fill="#ff5959"/>
<rect y="802.8" width="183.1" height="12.4" fill="#ff7d7d"/>
<rect y="814.9" width="183.1" height="12.4" fill="#ffa8a8"/>
<rect y="827.0" width="183.1" height="6.3" fill="#ffa6a6"/>
<rect y="833.0" width="183.1" height="6.3" fill="#ff6363"/>
<rect y="839.0" width="183.1" height="12.4" fill="#ff6161"/>
<rect y="851.1" width="183.1" height="6.3" fill="#ff6363"/>
<rect y="857.2" width="183.1" height="6.3" fill="#ffa1a1"/>
<rect y="863.2" width="183.1" height="6.3" fill="#fff0f0"/>
<rect y="869.2" width="183.1" height="6.3" fill="#ff4747"/>
<rect y="875.3" width="183.1" height="6.3" fill="#ff4040"/>
<rect y="881.3" width="183.1" height="6.3" fill="#ff7070"/>
<rect y="887.4" width="183.1" height="6.3" fill="#ff8585"/>
<rect y="893.4" width="183.1" height="12.4" fill="#ff3d3d"/>
<rect y="905.5" width="183.1" height="6.3" fill="#ff4040"/>
<rect y="911.5" width="183.1" height="6.3" fill="#ff6969"/>
<rect y="917.6" width="183.1" height="6.3" fill="#ff3030"/>
<rect y="923.6" width="183.1" height="6.3" fill="#ff3838"/>
<rect y="929.6" width="183.1" height="6.3" fill="#ff2929"/>
<rect y="935.7" width="183.1" height="6.3" fill="#ffa1a1"/>
<rect y="941.7" width="183.1" height="6.3" fill="#ffb0b0"/>
<rect y="947.8" width="183.1" height="6.3" fill="#ffc4c4"/>
<rect y="953.8" width="183.1" height="6.3" fill="#ff9191"/>
<rect y="959.8" width="183.1" height="6.3" fill="#ffa8a8"/>
<rect y="965.9" width="183.1" height="6.3" fill="#ff8080"/>
<rect y="971.9" width="183.1" height="6.3" fill="#ff6b6b"/>
<rect y="978.0" width="183.1" height="6.3" fill="#ff5c5c"/>
<rect y="984.0" width="183.1" height="6.3" fill="#ff5959"/>
<rect y="990.0" width="183.1" height="6.3" fill="#ff8787"/>
<rect y="996.1" width="183.1" height="6.3" fill="#ffa6a6"/>
<rect y="1002.1" width="183.1" height="6.3" fill="#ffb0b0"/>
<rect y="1008.2" width="183.1" height="6.3" fill="#ffd4d4"/>
<rect y="1014.2" width="183.1" height="6.3" fill="#ffd9d9"/>
<rect y="1020.2" width="183.1" height="6.3" fill="#ffb0b0"/>
<rect y="1026.3" width="183.1" height="6.3" fill="#ffa8a8"/>
<rect y="1032.3" width="183.1" height="6.3" fill="#ff7373"/>
<rect y="1038.4" width="183.1" height="12.4" fill="#fffafa"/>
<rect y="1050.4" width="183.1" height="6.3" fill="#ff9494"/>
<rect y="1056.5" width="183.1" height="12.4" fill="#ffadad"/>
<rect y="1068.6" width="183.1" height="6.3" fill="#ff8c8c"/>
<rect y="1074.6" width="183.1" height="6.3" fill="#ff4f4f"/>
<rect y="1080.6" width="183.1" height="6.3" fill="#ffeded"/>
<rect y="1086.7" width="183.1" height="6.3" fill="#fff0f0"/>
<rect y="1092.7" width="183.1" height="6.3" fill="#ffe0e0"/>
<rect y="1098.8" width="183.1" height="6.3" fill="#ff7878"/>
<rect y="1104.8" width="183.1" height="6.3" fill="#fff"/>
<rect y="1110.8" width="183.1" height="6.3" fill="#ffb0b0"/>
<rect y="1116.9" width="183.1" height="12.4" fill="#d1d1ff"/>
<rect y="1129.0" width="183.1" height="12.4" fill="#d4d4ff"/>
<rect y="1141.0" width="183.1" height="6.3" fill="#ff8c8c"/>
<rect y="1147.1" width="183.1" height="6.3" fill="#ffb0b0"/>
<rect y="1153.1" width="183.1" height="6.3" fill="#ffe0e0"/>
<rect y="1159.2" width="183.1" height="6.3" fill="#ff9494"/>
<rect y="1165.2" width="183.1" height="6.3" fill="#ffa8a8"/>
<rect y="1171.2" width="183.1" height="6.3" fill="#ff9494"/>
<rect y="1177.3" width="183.1" height="6.3" fill="#ffa8a8"/>
<rect y="1183.3" width="183.1" height="12.4" fill="#ffb0b0"/>
<rect y="1195.4" width="183.1" height="6.3" fill="#ff6161"/>
<rect y="1201.4" width="183.1" height="6.3" fill="#e0e0ff"/>
<rect y="1207.5" width="183.1" height="6.3" fill="#ffe8e8"/>
<rect y="1213.5" width="183.1" height="6.3" fill="#a3a3ff"/>
<rect y="1219.6" width="183.1" height="6.3" fill="#ffeded"/>
<rect y="1225.6" width="183.1" height="6.3" fill="#e0e0ff"/>
<rect y="1231.7" width="183.1" height="6.3" fill="#ededff"/>
<rect y="1237.7" width="183.1" height="6.3" fill="#ffe8e8"/>
<rect y="1243.7" width="183.1" height="6.3" fill="#ffc9c9"/>
<rect y="1249.8" width="183.1" height="6.3" fill="#f5f5ff"/>
<rect y="1255.8" width="183.1" height="6.3" fill="#bdbdff"/>
<rect y="1261.9" width="183.1" height="6.3" fill="#ffd9d9"/>
<rect y="1267.9" width="183.1" height="6.3" fill="#8787ff"/>
<rect y="1273.9" width="183.1" height="6.3" fill="#e3e3ff"/>
<rect y="1280.0" width="183.1" height="6.3" fill="#e0e0ff"/>
<rect y="1286.0" width="183.1" height="6.3" fill="#ff7070"/>
<rect y="1292.1" width="183.1" height="6.3" fill="#fff"/>
<rect y="1298.1" width="183.1" height="6.3" fill="#ff9191"/>
<rect y="1304.1" width="183.1" height="6.3" fill="#ff4747"/>
<rect y="1310.2" width="183.1" height="6.3" fill="#ff4040"/>
<rect y="1316.2" width="183.1" height="6.3" fill="#ffb0b0"/>
<rect y="1322.3" width="183.1" height="6.3" fill="#ffc9c9"/>
<rect y="1328.3" width="183.1" height="6.3" fill="#ffb8b8"/>
<rect y="1334.3" width="183.1" height="6.3" fill="#ff9191"/>
<rect y="1340.4" width="183.1" height="6.3" fill="#ffa6a6"/>
<rect y="1346.4" width="183.1" height="6.3" fill="#ffb0b0"/>
<rect y="1352.5" width="183.1" height="6.3" fill="#bfbfff"/>
<rect y="1358.5" width="183.1" height="12.4" fill="#f0f0ff"/>
<rect y="1370.6" width="183.1" height="6.3" fill="#fafaff"/>
<rect y="1376.6" width="183.1" height="6.3" fill="#fffafa"/>
<rect y="1382.7" width="183.1" height="6.3" fill="#ffa1a1"/>
<rect y="1388.7" width="183.1" height="6.3" fill="#a3a3ff"/>
<rect y="1394.7" width="183.1" height="6.3" fill="#e8e8ff"/>
<rect y="1400.8" width="183.1" height="6.3" fill="#ffa8a8"/>
<rect y="1406.8" width="183.1" height="6.3" fill="#c4c4ff"/>
<rect y="1412.9" width="183.1" height="6.3" fill="#8787ff"/>
<rect y="1418.9" width="183.1" height="6.3" fill="#d9d9ff"/>
<rect y="1424.9" width="183.1" height="6.3" fill="#c4c4ff"/>
<rect y="1431.0" width="183.1" height="6.3" fill="#7d7dff"/>
<rect y="1437.0" width="183.1" height="6.3" fill="#f5f5ff"/>
<rect y="1443.1" width="183.1" height="6.3" fill="#b5b5ff"/>
<rect y="1449.1" width="183.1" height="6.3" fill="#b8b8ff"/>
<rect y="1455.1" width="183.1" height="6.3" fill="#ffb8b8"/>
<rect y="1461.2" width="183.1" height="6.3" fill="#ffeded"/>
<rect y="1467.2" width="183.1" height="6.3" fill="#f0f0ff"/>
<rect y="1473.3" width="183.1" height="6.3" fill="#e0e0ff"/>
<rect y="1479.3" width="183.1" height="6.3" fill="#b8b8ff"/>
<rect y="1485.3" width="183.1" height="6.3" fill="#d1d1ff"/>
<rect y="1491.4" width="183.1" height="12.4" fill="#c4c4ff"/>
<rect y="1503.5" width="183.1" height="6.3" fill="#ffd9d9"/>
<rect y="1509.5" width="183.1" height="6.3" fill="#d1d1ff"/>
<rect y="1515.5" width="183.1" height="6.3" fill="#4040ff"/>
<rect y="1521.6" width="183.1" height="12.4" fill="#d1d1ff"/>
<rect y="1533.7" width="183.1" height="6.3" fill="#d4d4ff"/>
<rect y="1539.7" width="183.1" height="6.3" fill="#b5b5ff"/>
<rect y="1545.7" width="183.1" height="6.3" fill="#ffeded"/>
<rect y="1551.8" width="183.1" height="6.3" fill="#ffb0b0"/>
<rect y="1557.8" width="183.1" height="6.3" fill="#ffd1d1"/>
<rect y="1563.9" width="183.1" height="6.3" fill="#b0b0ff"/>
<rect y="1569.9" width="183.1" height="6.3" fill="#ffd9d9"/>
<rect y="1575.9" width="183.1" height="6.3" fill="#fff"/>
<rect y="1582.0" width="183.1" height="6.3" fill="#d9d9ff"/>
<rect y="1588.0" width="183.1" height="6.3" fill="#ffd4d4"/>
<rect y="1594.1" width="183.1" height="6.3" fill="#a8a8ff"/>
<rect y="1600.1" width="183.1" height="6.3" fill="#8787ff"/>
<rect y="1606.1" width="183.1" height="6.3" fill="#9494ff"/>
<rect y="1612.2" width="183.1" height="6.3" fill="#f0f0ff"/>
<rect y="1618.2" width="183.1" height="12.4" fill="#a8a8ff"/>
<rect y="1630.3" width="183.1" height="6.3" fill="#bfbfff"/>
<rect y="1636.3" width="183.1" height="6.3" fill="#fcc"/>
<rect y="1642.4" width="183.1" height="6.3" fill="#a1a1ff"/>
<rect y="1648.4" width="183.1" height="6.3" fill="#fff7f7"/>
<rect y="1654.5" width="183.1" height="6.3" fill="#c7c7ff"/>
<rect y="1660.5" width="183.1" height="6.3" fill="#a1a1ff"/>
<rect y="1666.5" width="183.1" height="6.3" fill="#ffbfbf"/>
<rect y="1672.6" width="183.1" height="6.3" fill="#4040ff"/>
<rect y="1678.6" width="183.1" height="6.3" fill="#4f4fff"/>
<rect y="1684.7" width="183.1" height="6.3" fill="#fff"/>
<rect y="1690.7" width="183.1" height="6.3" fill="#5454ff"/>
<rect y="1696.7" width="183.1" height="6.3" fill="#8787ff"/>
<rect y="1702.8" width="183.1" height="6.3" fill="#9191ff"/>
<rect y="1708.8" width="183.1" height="6.3" fill="#b0b0ff"/>
<rect y="1714.9" width="183.1" height="6.3" fill="#ededff"/>
<rect y="1720.9" width="183.1" height="18.4" fill="#d1d1ff"/>
<rect y="1739.0" width="183.1" height="6.3" fill="#e8e8ff"/>
<rect y="1745.1" width="183.1" height="6.3" fill="#c4c4ff"/>
<rect y="1751.1" width="183.1" height="6.3" fill="#dbdbff"/>
<rect y="1757.1" width="183.1" height="6.3" fill="#d1d1ff"/>
<rect y="1763.2" width="183.1" height="6.3" fill="#d9d9ff"/>
<rect y="1769.2" width="183.1" height="6.3" fill="#f5f5ff"/>
<rect y="1775.3" width="183.1" height="6.3" fill="#c7c7ff"/>
<rect y="1781.3" width="183.1" height="6.3" fill="#9c9cff"/>
<rect y="1787.3" width="183.1" height="6.3" fill="#f7f7ff"/>
<rect y="1793.4" width="183.1" height="6.3" fill="#a8a8ff"/>
<rect y="1799.4" width="183.1" height="6.3" fill="#dbdbff"/>
<rect y="1805.5" width="183.1" height="6.3" fill="#8c8cff"/>
<rect y="1811.5" width="183.1" height="6.3" fill="#b5b5ff"/>
<rect y="1817.5" width="183.1" height="6.3" fill="#f0f0ff"/>
<rect y="1823.6" width="183.1" height="6.3" fill="#5959ff"/>
<rect y="1829.6" width="183.1" height="6.3" fill="#9c9cff"/>
<rect y="1835.7" width="183.1" height="6.3" fill="#ffd1d1"/>
<rect y="1841.7" width="183.1" height="6.3" fill="#7d7dff"/>
<rect y="1847.7" width="183.1" height="6.3" fill="#dbdbff"/>
<rect y="1853.8" width="183.1" height="6.3" fill="#ffb8b8"/>
<rect y="1859.8" width="183.1" height="6.3" fill="#a8a8ff"/>
<rect y="1865.9" width="183.1" height="6.3" fill="#ffd1d1"/>
<rect y="1871.9" width="183.1" height="6.3" fill="#ffd9d9"/>
<rect y="1877.9" width="183.1" height="6.3" fill="#fff"/>
<rect y="1884.0" width="183.1" height="6.3" fill="#bfbfff"/>
<rect y="1890.0" width="183.1" height="6.3" fill="#d1d1ff"/>
<rect y="1896.1" width="183.1" height="6.3" fill="#e8e8ff"/>
<rect y="1902.1" width="183.1" height="6.3" fill="#bfbfff"/>
<rect y="1908.1" width="183.1" height="6.3" fill="#c4c4ff"/>
<rect y="1914.2" width="183.1" height="6.3" fill="#ededff"/>
<rect y="1920.2" width="183.1" height="6.3" fill="#b5b5ff"/>
<rect y="1926.3" width="183.1" height="6.3" fill="#dbdbff"/>
<rect y="1932.3" width="183.1" height="6.3" fill="#9494ff"/>
<rect y="1938.3" width="183.1" height="6.3" fill="#d9d9ff"/>
<rect y="1944.4" width="183.1" height="6.3" fill="#b0b0ff"/>
<rect y="1950.4" width="183.1" height="12.4" fill="#b5b5ff"/>
<rect y="1962.5" width="183.1" height="6.3" fill="#8787ff"/>
<rect y="1968.5" width="183.1" height="12.4" fill="#a8a8ff"/>
<rect y="1980.6" width="183.1" height="6.3" fill="#b0b0ff"/>
<rect y="1986.7" width="183.1" height="6.3" fill="#c4c4ff"/>
<rect y="1992.7" width="183.1" height="6.3" fill="#ffa8a8"/>
<rect y="1998.7" width="183.1" height="6.3" fill="#f99"/>
<rect y="2004.8" width="183.1" height="6.3" fill="#a8a8ff"/>
<rect y="2010.8" width="183.1" height="6.3" fill="#7d7dff"/>
<rect y="2016.9" width="183.1" height="6.3" fill="#ffe8e8"/>
<rect y="2022.9" width="183.1" height="6.3" fill="#fff5f5"/>
<rect y="2028.9" width="183.1" height="6.3" fill="#ffb8b8"/>
<rect y="2035.0" width="183.1" height="6.3" fill="#8c8cff"/>
<rect y="2041.0" width="183.1" height="12.4" fill="#a8a8ff"/>
<rect y="2053.1" width="183.1" height="6.3" fill="#bfbfff"/>
<rect y="2059.1" width="183.1" height="6.3" fill="#e8e8ff"/>
<rect y="2065.2" width="183.1" height="6.3" fill="#f0f0ff"/>
<rect y="2071.2" width="183.1" height="6.3" fill="#ededff"/>
<rect y="2077.3" width="183.1" height="6.3" fill="#ffa8a8"/>
<rect y="2083.3" width="183.1" height="12.4" fill="#e0e0ff"/>
<rect y="2095.4" width="183.1" height="6.3" fill="#d9d9ff"/>
<rect y="2101.4" width="183.1" height="6.3" fill="#f7f7ff"/>
<rect y="2107.5" width="183.1" height="6.3" fill="#c7c7ff"/>
<rect y="2113.5" width="183.1" height="6.3" fill="#8c8cff"/>
<rect y="2119.5" width="183.1" height="6.3" fill="#9c9cff"/>
<rect y="2125.6" width="183.1" height="6.3" fill="#7575ff"/>
<rect y="2131.6" width="183.1" height="6.3" fill="#d1d1ff"/>
<rect y="2137.7" width="183.1" height="12.4" fill="#c4c4ff"/>
<rect y="2149.7" width="183.1" height="6.3" fill="#c7c7ff"/>
<rect y="2155.8" width="183.1" height="6.3" fill="#ededff"/>
<rect y="2161.8" width="183.1" height="6.3" fill="#e0e0ff"/>
<rect y="2167.9" width="183.1" height="6.3" fill="#fff"/>
<rect y="2173.9" width="183.1" height="6.3" fill="#d9d9ff"/>
<rect y="2179.9" width="183.1" height="6.3" fill="#ffb0b0"/>
<rect y="2186.0" width="183.1" height="12.4" fill="#ededff"/>
<rect y="2198.1" width="183.1" height="6.3" fill="#bfbfff"/>
<rect y="2204.1" width="183.1" height="6.3" fill="#a8a8ff"/>
<rect y="2210.1" width="183.1" height="6.3" fill="#fff"/>
<rect y="2216.2" width="183.1" height="6.3" fill="#fffcfc"/>
<rect y="2222.2" width="183.1" height="12.4" fill="#a8a8ff"/>
</g>
</g>
<rect x="267" y="227.5" width="924.2" height="2006.2" fill="none" stroke="#000" stroke-width="6" stroke-linejoin="round"/>
<rect x="354.8" y="2236" width="6.4" height="16.5" fill="#000"/>
<rect x="539.3" y="2236" width="6.4" height="16.5" fill="#000"/>
<rect x="723.8" y="2236" width="6.4" height="16.5" fill="#000"/>
<rect x="907.8" y="2236" width="6.4" height="16.5" fill="#000"/>
<rect x="1092.5" y="2236" width="6.4" height="16.5" fill="#000"/>
<rect x="224" y="230" width="8.5" height="1997" fill="#000"/>
<rect x="209" y="226.0" width="39" height="9" rx="2" fill="#000"/>
<rect x="209" y="713.5" width="39" height="9" rx="2" fill="#000"/>
<rect x="209" y="1009.5" width="39" height="9" rx="2" fill="#000"/>
<rect x="209" y="1388.8" width="39" height="9" rx="2" fill="#000"/>
<rect x="209" y="1844.5" width="39" height="9" rx="2" fill="#000"/>
<rect x="209" y="2222.0" width="39" height="9" rx="2" fill="#000"/>
<text transform="translate(62.6 506.6) scale(1 1.03)" font-family='"Liberation Sans",Arial,sans-serif' font-size="101.5" fill="#000">A</text>
<text transform="translate(62.0 939.8) scale(1 1.03)" font-family='"Liberation Sans",Arial,sans-serif' font-size="101.5" fill="#000">B</text>
<text transform="translate(50.0 1232.0) scale(1 1.03)" font-family='"Liberation Sans",Arial,sans-serif' font-size="101.5" fill="#000">C</text>
<text transform="translate(55.2 1655.3) scale(1 1.03)" font-family='"Liberation Sans",Arial,sans-serif' font-size="101.5" fill="#000">D</text>
<text transform="translate(62.6 2076.6) scale(1 1.03)" font-family='"Liberation Sans",Arial,sans-serif' font-size="101.5" fill="#000">E</text>
<text transform="translate(380.2 2312.0) rotate(-45)" text-anchor="end" font-family='"Liberation Serif","Times New Roman",serif' font-weight="bold" font-size="62.2" fill="#000">L.crispatus</text>
<text transform="translate(564.3 2311.3) rotate(-45)" text-anchor="end" font-family='"Liberation Serif","Times New Roman",serif' font-weight="bold" font-size="62.2" fill="#000">L.iners</text>
<text transform="translate(749.2 2311.5) rotate(-45)" text-anchor="end" font-family='"Liberation Serif","Times New Roman",serif' font-weight="bold" font-size="62.2" fill="#000">L.gassri</text>
<text transform="translate(932.2 2311.0) rotate(-45)" text-anchor="end" font-family='"Liberation Serif","Times New Roman",serif' font-weight="bold" font-size="62.2" word-spacing="5" fill="#000">F. vaginae</text>
<text transform="translate(1118.1 2311.0) rotate(-45)" text-anchor="end" font-family='"Liberation Serif","Times New Roman",serif' font-weight="bold" font-size="62.2" fill="#000">G.vaginalis</text>
<defs><linearGradient id="cb" x1="0" y1="0" x2="0" y2="1"><stop offset="0" stop-color="#f00"/><stop offset="0.5" stop-color="#fff"/><stop offset="1" stop-color="#00f"/></linearGradient></defs>
<rect x="1385" y="1082.5" width="78" height="1154.5" fill="url(#cb)" stroke="#000" stroke-width="6" stroke-linejoin="round"/>
<rect x="1388" y="1273.0" width="21" height="6" fill="#000"/>
<rect x="1439" y="1273.0" width="21" height="6" fill="#000"/>
<text x="1516" y="1305.7" font-family='"Liberation Serif","Times New Roman",serif' font-size="84" fill="#000">2</text>
<rect x="1388" y="1658.0" width="21" height="6" fill="#000"/>
<rect x="1439" y="1658.0" width="21" height="6" fill="#000"/>
<text x="1516" y="1690.7" font-family='"Liberation Serif","Times New Roman",serif' font-size="84" fill="#000">0</text>
<rect x="1388" y="2043.0" width="21" height="6" fill="#000"/>
<rect x="1439" y="2043.0" width="21" height="6" fill="#000"/>
<text x="1516" y="2075.7" font-family='"Liberation Serif","Times New Roman",serif' font-size="84" fill="#000">-2</text>
<text transform="translate(187.26 166.00) scale(1.0088 1)" font-family='"Liberation Serif","Times New Roman",serif' font-weight="bold" font-size="106" fill="#111">(A)</text>
<text transform="translate(1888.28 165.80) scale(1.0250 1)" font-family='"Liberation Serif","Times New Roman",serif' font-weight="bold" font-size="106" fill="#111">(B)</text>
<path d="M2096.0 1625.4V1603.5H2243.0V1407.4H2389.9V1166.5H2536.9V1122.3H2683.9V963.5H2830.8V939.2H2977.8V838.4H3124.8V787.8H3271.8V787.8H3418.7V758.2H3565.7V722.5H3712.7V645.0H3859.6V645.0H3948.0" fill="none" stroke="#F8766D" stroke-width="8.6" stroke-linejoin="round"/>
<path d="M2096.0 1625.4V1584.4H2243.0V1459.0H2389.9V1375.8H2536.9V1292.2H2683.9V1248.8H2830.8V1206.2H2977.8V1120.1H3124.8V1034.0H3271.8V938.0H3418.7V883.5H3565.7V884.5H3712.7V826.6H3859.6V764.8H3948.0" fill="none" stroke="#A3A500" stroke-width="11.4" stroke-linejoin="round"/>
<path d="M2096.0 1625.4V1572.5H2243.0V1438.6H2389.9V1277.6H2536.9V1251.0H2683.9V1169.1H2830.8V1083.5H2977.8V1027.5H3124.8V1027.0H3271.8V962.5H3418.7V890.8H3565.7V854.3H3712.7V818.5H3859.6V782.0H3948.0" fill="none" stroke="#00BF7D" stroke-width="11.4" stroke-linejoin="round"/>
<path d="M2096.0 1625.4V1601.7H2243.0V1553.4H2389.9V1480.3H2536.9V1359.0H2683.9V1284.8H2830.8V1284.8H2977.8V1209.7H3124.8V1209.7H3271.8V1181.4H3418.7V1181.4H3565.7V1181.4H3712.7V1118.8H3859.6V1085.0H3948.0" fill="none" stroke="#00B0F6" stroke-width="11.4" stroke-linejoin="round"/>
<path d="M2096.0 1625.4V1572.0H2243.0V1490.0H2389.9V1299.7H2536.9V1163.4H2683.9V1136.0H2830.8V1053.0H2977.8V1024.5H3124.8V994.6H3271.8V961.7H3418.7V928.2H3565.7V813.6H3712.7V813.6H3859.6V773.6H3948.0" fill="none" stroke="#E76BF3" stroke-width="11.4" stroke-linejoin="round"/>
<path d="M2371.9 1170.0h36M2389.9 1151.5v37M2518.9 1125.8h36M2536.9 1107.3v37M2665.9 967.0h36M2683.9 948.5v37M2812.8 942.7h36M2830.8 924.2v37M3106.8 791.3h36M3124.8 772.8v37M3253.8 791.3h36M3271.8 772.8v37M3400.7 761.7h36M3418.7 743.2v37M3547.7 726.0h36M3565.7 707.5v37M3694.7 648.5h36M3712.7 630.0v37M3841.6 648.5h36M3859.6 630.0v37" fill="none" stroke="#F8766D" stroke-width="6"/>
<path d="M2518.9 1295.7h36M2536.9 1277.2v37M3106.8 1037.5h36M3124.8 1019.0v37M3253.8 941.5h36M3271.8 923.0v37M3400.7 887.0h36M3418.7 868.5v37M3547.7 888.0h36M3565.7 869.5v37M3841.6 768.3h36M3859.6 749.8v37" fill="none" stroke="#A3A500" stroke-width="6"/>
<path d="M2518.9 1254.5h36M2536.9 1236.0v37M2665.9 1172.6h36M2683.9 1154.1v37M3106.8 1030.5h36M3124.8 1012.0v37M3400.7 894.3h36M3418.7 875.8v37M3694.7 822.0h36M3712.7 803.5v37M3841.6 785.5h36M3859.6 767.0v37" fill="none" stroke="#00BF7D" stroke-width="6"/>
<path d="M2518.9 1362.5h36M2536.9 1344.0v37M2812.8 1288.3h36M2830.8 1269.8v37M2959.8 1213.2h36M2977.8 1194.7v37M3106.8 1213.2h36M3124.8 1194.7v37M3253.8 1184.9h36M3271.8 1166.4v37M3400.7 1184.9h36M3418.7 1166.4v37M3547.7 1184.9h36M3565.7 1166.4v37M3694.7 1122.3h36M3712.7 1103.8v37M3841.6 1088.5h36M3859.6 1070.0v37" fill="none" stroke="#00B0F6" stroke-width="6"/>
<path d="M2665.9 1139.5h36M2683.9 1121.0v37M2812.8 1056.5h36M2830.8 1038.0v37M2959.8 1028.0h36M2977.8 1009.5v37M3106.8 998.1h36M3124.8 979.6v37M3253.8 965.2h36M3271.8 946.7v37M3400.7 931.7h36M3418.7 913.2v37M3547.7 817.1h36M3565.7 798.6v37M3694.7 817.1h36M3712.7 798.6v37M3841.6 777.1h36M3859.6 758.6v37" fill="none" stroke="#E76BF3" stroke-width="6"/>
<rect x="2004.2" y="361.5" width="6.6" height="1328" fill="#000"/>
<rect x="2004.2" y="1682.3" width="1943.6" height="7.4" fill="#000"/>
<rect x="1990.4" y="1622.1" width="16" height="6.6" fill="#000"/>
<text x="1965.5" y="1644.1" text-anchor="end" font-family='"Liberation Serif","Times New Roman",serif' font-size="58.5" fill="#000">0.0</text>
<rect x="1990.4" y="1442.6" width="16" height="6.6" fill="#000"/>
<text x="1965.5" y="1464.6" text-anchor="end" font-family='"Liberation Serif","Times New Roman",serif' font-size="58.5" fill="#000">0.1</text>
<rect x="1990.4" y="1263.0" width="16" height="6.6" fill="#000"/>
<text x="1965.5" y="1285.0" text-anchor="end" font-family='"Liberation Serif","Times New Roman",serif' font-size="58.5" fill="#000">0.2</text>
<rect x="1990.4" y="1083.5" width="16" height="6.6" fill="#000"/>
<text x="1965.5" y="1105.5" text-anchor="end" font-family='"Liberation Serif","Times New Roman",serif' font-size="58.5" fill="#000">0.3</text>
<rect x="1990.4" y="903.9" width="16" height="6.6" fill="#000"/>
<text x="1965.5" y="925.9" text-anchor="end" font-family='"Liberation Serif","Times New Roman",serif' font-size="58.5" fill="#000">0.4</text>
<rect x="1990.4" y="724.4" width="16" height="6.6" fill="#000"/>
<text x="1965.5" y="746.4" text-anchor="end" font-family='"Liberation Serif","Times New Roman",serif' font-size="58.5" fill="#000">0.5</text>
<rect x="1990.4" y="544.8" width="16" height="6.6" fill="#000"/>
<text x="1965.5" y="566.8" text-anchor="end" font-family='"Liberation Serif","Times New Roman",serif' font-size="58.5" fill="#000">0.6</text>
<rect x="1990.4" y="365.2" width="16" height="6.6" fill="#000"/>
<text x="1965.5" y="387.2" text-anchor="end" font-family='"Liberation Serif","Times New Roman",serif' font-size="58.5" fill="#000">0.7</text>
<rect x="2092.5" y="1686" width="7" height="16.5" fill="#000"/>
<text x="2096.0" y="1757.8" text-anchor="middle" font-family='"Liberation Serif","Times New Roman",serif' font-size="67.5" fill="#000">0</text>
<rect x="2239.5" y="1686" width="7" height="16.5" fill="#000"/>
<text x="2243.0" y="1757.8" text-anchor="middle" font-family='"Liberation Serif","Times New Roman",serif' font-size="67.5" fill="#000">1</text>
<rect x="2386.4" y="1686" width="7" height="16.5" fill="#000"/>
<text x="2389.9" y="1757.8" text-anchor="middle" font-family='"Liberation Serif","Times New Roman",serif' font-size="67.5" fill="#000">2</text>
<rect x="2533.4" y="1686" width="7" height="16.5" fill="#000"/>
<text x="2536.9" y="1757.8" text-anchor="middle" font-family='"Liberation Serif","Times New Roman",serif' font-size="67.5" fill="#000">3</text>
<rect x="2680.4" y="1686" width="7" height="16.5" fill="#000"/>
<text x="2683.9" y="1757.8" text-anchor="middle" font-family='"Liberation Serif","Times New Roman",serif' font-size="67.5" fill="#000">4</text>
<rect x="2827.3" y="1686" width="7" height="16.5" fill="#000"/>
<text x="2830.8" y="1757.8" text-anchor="middle" font-family='"Liberation Serif","Times New Roman",serif' font-size="67.5" fill="#000">5</text>
<rect x="2974.3" y="1686" width="7" height="16.5" fill="#000"/>
<text x="2977.8" y="1757.8" text-anchor="middle" font-family='"Liberation Serif","Times New Roman",serif' font-size="67.5" fill="#000">6</text>
<rect x="3121.3" y="1686" width="7" height="16.5" fill="#000"/>
<text x="3124.8" y="1757.8" text-anchor="middle" font-family='"Liberation Serif","Times New Roman",serif' font-size="67.5" fill="#000">7</text>
<rect x="3268.3" y="1686" width="7" height="16.5" fill="#000"/>
<text x="3271.8" y="1757.8" text-anchor="middle" font-family='"Liberation Serif","Times New Roman",serif' font-size="67.5" fill="#000">8</text>
<rect x="3415.2" y="1686" width="7" height="16.5" fill="#000"/>
<text x="3418.7" y="1757.8" text-anchor="middle" font-family='"Liberation Serif","Times New Roman",serif' font-size="67.5" fill="#000">9</text>
<rect x="3562.2" y="1686" width="7" height="16.5" fill="#000"/>
<text x="3565.7" y="1757.8" text-anchor="middle" font-family='"Liberation Serif","Times New Roman",serif' font-size="67.5" fill="#000">10</text>
<rect x="3709.2" y="1686" width="7" height="16.5" fill="#000"/>
<text x="3712.7" y="1757.8" text-anchor="middle" font-family='"Liberation Serif","Times New Roman",serif' font-size="67.5" fill="#000">11</text>
<rect x="3856.1" y="1686" width="7" height="16.5" fill="#000"/>
<text x="3859.6" y="1757.8" text-anchor="middle" font-family='"Liberation Serif","Times New Roman",serif' font-size="67.5" fill="#000">12</text>
<text transform="translate(2816.67 1857.30) scale(1.0265 1)" font-family='"Liberation Serif","Times New Roman",serif' font-size="75.3" fill="#000">TTP (month)</text>
<g transform="translate(1837.5 0) rotate(-90)"><text transform="translate(-1440.70 0.00) scale(0.9988 1)" font-family='"Liberation Serif","Times New Roman",serif' font-weight="bold" font-size="78" fill="#000">Cumulative pregnancy rate</text></g>
<text transform="translate(3248.83 1564.50) scale(0.9744 1)" font-family='"Liberation Serif","Times New Roman",serif' font-weight="bold" font-size="79.5" fill="#000">Log-rank: <tspan font-style="italic">P</tspan> = 0.014</text>
<rect x="2156" y="338.2" width="77" height="11.8" fill="#F8766D"/>
<rect x="2173.8" y="346.5" width="41" height="5" fill="#F8766D"/>
<rect x="2192" y="328.1" width="5.2" height="40.8" fill="#F8766D"/>
<text x="2259.0" y="367.5" font-family='"Liberation Serif","Times New Roman",serif' font-weight="bold" font-size="56" fill="#000">A</text>
<rect x="2156" y="421.6" width="77" height="11.8" fill="#A3A500"/>
<rect x="2173.8" y="429.9" width="41" height="5" fill="#A3A500"/>
<rect x="2192" y="411.5" width="5.2" height="40.8" fill="#A3A500"/>
<text x="2262.0" y="450.8" font-family='"Liberation Serif","Times New Roman",serif' font-weight="bold" font-size="56" fill="#000">B</text>
<rect x="2156" y="506.0" width="77" height="11.8" fill="#00BF7D"/>
<rect x="2173.8" y="514.3" width="41" height="5" fill="#00BF7D"/>
<rect x="2192" y="495.9" width="5.2" height="40.8" fill="#00BF7D"/>
<text x="2257.0" y="535.0" font-family='"Liberation Serif","Times New Roman",serif' font-weight="bold" font-size="56" fill="#000">C</text>
<rect x="2156" y="591.2" width="77" height="11.8" fill="#00B0F6"/>
<rect x="2173.8" y="599.5" width="41" height="5" fill="#00B0F6"/>
<rect x="2192" y="581.1" width="5.2" height="40.8" fill="#00B0F6"/>
<text x="2261.0" y="617.0" font-family='"Liberation Serif","Times New Roman",serif' font-weight="bold" font-size="56" fill="#000">D</text>
<rect x="2156" y="677.0" width="77" height="11.8" fill="#E76BF3"/>
<rect x="2173.8" y="685.3" width="41" height="5" fill="#E76BF3"/>
<rect x="2192" y="666.9" width="5.2" height="40.8" fill="#E76BF3"/>
<text x="2265.0" y="704.4" font-family='"Liberation Serif","Times New Roman",serif' font-weight="bold" font-size="56" fill="#000">E</text>
<text transform="translate(2040.92 1927.60) scale(1.0419 1)" font-family='"Liberation Serif","Times New Roman",serif' font-size="56" fill="#000">Number at risk</text>
<rect x="2004.3" y="1981.6" width="6.2" height="244" fill="#000"/>
<rect x="2004.3" y="2219" width="1943.5" height="7" fill="#000"/>
<rect x="1990.7" y="2005.3" width="14" height="7.6" fill="#333"/>
<text x="1978" y="2019.9" text-anchor="end" font-family='"Liberation Serif","Times New Roman",serif' font-size="49.5" fill="#F8766D">A</text>
<text x="2096.0" y="2028.1" text-anchor="middle" font-family='"Liberation Serif","Times New Roman",serif' font-size="56.5" fill="#000">82</text>
<text x="2243.0" y="2028.1" text-anchor="middle" font-family='"Liberation Serif","Times New Roman",serif' font-size="56.5" fill="#000">81</text>
<text x="2389.9" y="2028.1" text-anchor="middle" font-family='"Liberation Serif","Times New Roman",serif' font-size="56.5" fill="#000">72</text>
<text x="2536.9" y="2028.1" text-anchor="middle" font-family='"Liberation Serif","Times New Roman",serif' font-size="56.5" fill="#000">60</text>
<text x="2683.9" y="2028.1" text-anchor="middle" font-family='"Liberation Serif","Times New Roman",serif' font-size="56.5" fill="#000">57</text>
<text x="2830.8" y="2028.1" text-anchor="middle" font-family='"Liberation Serif","Times New Roman",serif' font-size="56.5" fill="#000">47</text>
<text x="2977.8" y="2028.1" text-anchor="middle" font-family='"Liberation Serif","Times New Roman",serif' font-size="56.5" fill="#000">44</text>
<text x="3124.8" y="2028.1" text-anchor="middle" font-family='"Liberation Serif","Times New Roman",serif' font-size="56.5" fill="#000">40</text>
<text x="3271.8" y="2028.1" text-anchor="middle" font-family='"Liberation Serif","Times New Roman",serif' font-size="56.5" fill="#000">37</text>
<text x="3418.7" y="2028.1" text-anchor="middle" font-family='"Liberation Serif","Times New Roman",serif' font-size="56.5" fill="#000">32</text>
<text x="3565.7" y="2028.1" text-anchor="middle" font-family='"Liberation Serif","Times New Roman",serif' font-size="56.5" fill="#000">26</text>
<text x="3712.7" y="2028.1" text-anchor="middle" font-family='"Liberation Serif","Times New Roman",serif' font-size="56.5" fill="#000">23</text>
<text x="3859.6" y="2028.1" text-anchor="middle" font-family='"Liberation Serif","Times New Roman",serif' font-size="56.5" fill="#000">19</text>
<rect x="1990.7" y="2051.6" width="14" height="7.6" fill="#333"/>
<text x="1978" y="2066.2" text-anchor="end" font-family='"Liberation Serif","Times New Roman",serif' font-size="49.5" fill="#A3A500">B</text>
<text x="2096.0" y="2074.4" text-anchor="middle" font-family='"Liberation Serif","Times New Roman",serif' font-size="56.5" fill="#000">43</text>
<text x="2243.0" y="2074.4" text-anchor="middle" font-family='"Liberation Serif","Times New Roman",serif' font-size="56.5" fill="#000">42</text>
<text x="2389.9" y="2074.4" text-anchor="middle" font-family='"Liberation Serif","Times New Roman",serif' font-size="56.5" fill="#000">39</text>
<text x="2536.9" y="2074.4" text-anchor="middle" font-family='"Liberation Serif","Times New Roman",serif' font-size="56.5" fill="#000">37</text>
<text x="2683.9" y="2074.4" text-anchor="middle" font-family='"Liberation Serif","Times New Roman",serif' font-size="56.5" fill="#000">34</text>
<text x="2830.8" y="2074.4" text-anchor="middle" font-family='"Liberation Serif","Times New Roman",serif' font-size="56.5" fill="#000">33</text>
<text x="2977.8" y="2074.4" text-anchor="middle" font-family='"Liberation Serif","Times New Roman",serif' font-size="56.5" fill="#000">32</text>
<text x="3124.8" y="2074.4" text-anchor="middle" font-family='"Liberation Serif","Times New Roman",serif' font-size="56.5" fill="#000">30</text>
<text x="3271.8" y="2074.4" text-anchor="middle" font-family='"Liberation Serif","Times New Roman",serif' font-size="56.5" fill="#000">25</text>
<text x="3418.7" y="2074.4" text-anchor="middle" font-family='"Liberation Serif","Times New Roman",serif' font-size="56.5" fill="#000">21</text>
<text x="3565.7" y="2074.4" text-anchor="middle" font-family='"Liberation Serif","Times New Roman",serif' font-size="56.5" fill="#000">19</text>
<text x="3712.7" y="2074.4" text-anchor="middle" font-family='"Liberation Serif","Times New Roman",serif' font-size="56.5" fill="#000">18</text>
<text x="3859.6" y="2074.4" text-anchor="middle" font-family='"Liberation Serif","Times New Roman",serif' font-size="56.5" fill="#000">17</text>
<rect x="1990.7" y="2097.9" width="14" height="7.6" fill="#333"/>
<text x="1978" y="2112.5" text-anchor="end" font-family='"Liberation Serif","Times New Roman",serif' font-size="49.5" fill="#00BF7D">C</text>
<text x="2096.0" y="2120.7" text-anchor="middle" font-family='"Liberation Serif","Times New Roman",serif' font-size="56.5" fill="#000">67</text>
<text x="2243.0" y="2120.7" text-anchor="middle" font-family='"Liberation Serif","Times New Roman",serif' font-size="56.5" fill="#000">65</text>
<text x="2389.9" y="2120.7" text-anchor="middle" font-family='"Liberation Serif","Times New Roman",serif' font-size="56.5" fill="#000">60</text>
<text x="2536.9" y="2120.7" text-anchor="middle" font-family='"Liberation Serif","Times New Roman",serif' font-size="56.5" fill="#000">54</text>
<text x="2683.9" y="2120.7" text-anchor="middle" font-family='"Liberation Serif","Times New Roman",serif' font-size="56.5" fill="#000">52</text>
<text x="2830.8" y="2120.7" text-anchor="middle" font-family='"Liberation Serif","Times New Roman",serif' font-size="56.5" fill="#000">47</text>
<text x="2977.8" y="2120.7" text-anchor="middle" font-family='"Liberation Serif","Times New Roman",serif' font-size="56.5" fill="#000">44</text>
<text x="3124.8" y="2120.7" text-anchor="middle" font-family='"Liberation Serif","Times New Roman",serif' font-size="56.5" fill="#000">42</text>
<text x="3271.8" y="2120.7" text-anchor="middle" font-family='"Liberation Serif","Times New Roman",serif' font-size="56.5" fill="#000">37</text>
<text x="3418.7" y="2120.7" text-anchor="middle" font-family='"Liberation Serif","Times New Roman",serif' font-size="56.5" fill="#000">32</text>
<text x="3565.7" y="2120.7" text-anchor="middle" font-family='"Liberation Serif","Times New Roman",serif' font-size="56.5" fill="#000">29</text>
<text x="3712.7" y="2120.7" text-anchor="middle" font-family='"Liberation Serif","Times New Roman",serif' font-size="56.5" fill="#000">28</text>
<text x="3859.6" y="2120.7" text-anchor="middle" font-family='"Liberation Serif","Times New Roman",serif' font-size="56.5" fill="#000">26</text>
<rect x="1990.7" y="2144.2" width="14" height="7.6" fill="#333"/>
<text x="1978" y="2158.8" text-anchor="end" font-family='"Liberation Serif","Times New Roman",serif' font-size="49.5" fill="#00B0F6">D</text>
<text x="2096.0" y="2167.0" text-anchor="middle" font-family='"Liberation Serif","Times New Roman",serif' font-size="56.5" fill="#000">74</text>
<text x="2243.0" y="2167.0" text-anchor="middle" font-family='"Liberation Serif","Times New Roman",serif' font-size="56.5" fill="#000">73</text>
<text x="2389.9" y="2167.0" text-anchor="middle" font-family='"Liberation Serif","Times New Roman",serif' font-size="56.5" fill="#000">71</text>
<text x="2536.9" y="2167.0" text-anchor="middle" font-family='"Liberation Serif","Times New Roman",serif' font-size="56.5" fill="#000">68</text>
<text x="2683.9" y="2167.0" text-anchor="middle" font-family='"Liberation Serif","Times New Roman",serif' font-size="56.5" fill="#000">62</text>
<text x="2830.8" y="2167.0" text-anchor="middle" font-family='"Liberation Serif","Times New Roman",serif' font-size="56.5" fill="#000">59</text>
<text x="2977.8" y="2167.0" text-anchor="middle" font-family='"Liberation Serif","Times New Roman",serif' font-size="56.5" fill="#000">58</text>
<text x="3124.8" y="2167.0" text-anchor="middle" font-family='"Liberation Serif","Times New Roman",serif' font-size="56.5" fill="#000">51</text>
<text x="3271.8" y="2167.0" text-anchor="middle" font-family='"Liberation Serif","Times New Roman",serif' font-size="56.5" fill="#000">49</text>
<text x="3418.7" y="2167.0" text-anchor="middle" font-family='"Liberation Serif","Times New Roman",serif' font-size="56.5" fill="#000">46</text>
<text x="3565.7" y="2167.0" text-anchor="middle" font-family='"Liberation Serif","Times New Roman",serif' font-size="56.5" fill="#000">45</text>
<text x="3712.7" y="2167.0" text-anchor="middle" font-family='"Liberation Serif","Times New Roman",serif' font-size="56.5" fill="#000">43</text>
<text x="3859.6" y="2167.0" text-anchor="middle" font-family='"Liberation Serif","Times New Roman",serif' font-size="56.5" fill="#000">38</text>
<rect x="1990.7" y="2190.5" width="14" height="7.6" fill="#333"/>
<text x="1978" y="2205.1" text-anchor="end" font-family='"Liberation Serif","Times New Roman",serif' font-size="49.5" fill="#E76BF3">E</text>
<text x="2096.0" y="2213.3" text-anchor="middle" font-family='"Liberation Serif","Times New Roman",serif' font-size="56.5" fill="#000">66</text>
<text x="2243.0" y="2213.3" text-anchor="middle" font-family='"Liberation Serif","Times New Roman",serif' font-size="56.5" fill="#000">64</text>
<text x="2389.9" y="2213.3" text-anchor="middle" font-family='"Liberation Serif","Times New Roman",serif' font-size="56.5" fill="#000">61</text>
<text x="2536.9" y="2213.3" text-anchor="middle" font-family='"Liberation Serif","Times New Roman",serif' font-size="56.5" fill="#000">54</text>
<text x="2683.9" y="2213.3" text-anchor="middle" font-family='"Liberation Serif","Times New Roman",serif' font-size="56.5" fill="#000">49</text>
<text x="2830.8" y="2213.3" text-anchor="middle" font-family='"Liberation Serif","Times New Roman",serif' font-size="56.5" fill="#000">47</text>
<text x="2977.8" y="2213.3" text-anchor="middle" font-family='"Liberation Serif","Times New Roman",serif' font-size="56.5" fill="#000">43</text>
<text x="3124.8" y="2213.3" text-anchor="middle" font-family='"Liberation Serif","Times New Roman",serif' font-size="56.5" fill="#000">40</text>
<text x="3271.8" y="2213.3" text-anchor="middle" font-family='"Liberation Serif","Times New Roman",serif' font-size="56.5" fill="#000">36</text>
<text x="3418.7" y="2213.3" text-anchor="middle" font-family='"Liberation Serif","Times New Roman",serif' font-size="56.5" fill="#000">33</text>
<text x="3565.7" y="2213.3" text-anchor="middle" font-family='"Liberation Serif","Times New Roman",serif' font-size="56.5" fill="#000">29</text>
<text x="3712.7" y="2213.3" text-anchor="middle" font-family='"Liberation Serif","Times New Roman",serif' font-size="56.5" fill="#000">25</text>
<text x="3859.6" y="2213.3" text-anchor="middle" font-family='"Liberation Serif","Times New Roman",serif' font-size="56.5" fill="#000">24</text>
<rect x="2092.7" y="2222" width="6.6" height="16.4" fill="#333"/>
<text x="2096.0" y="2293.8" text-anchor="middle" font-family='"Liberation Serif","Times New Roman",serif' font-size="51" fill="#000">0</text>
<rect x="2239.7" y="2222" width="6.6" height="16.4" fill="#333"/>
<text x="2243.0" y="2293.8" text-anchor="middle" font-family='"Liberation Serif","Times New Roman",serif' font-size="51" fill="#000">1</text>
<rect x="2386.6" y="2222" width="6.6" height="16.4" fill="#333"/>
<text x="2389.9" y="2293.8" text-anchor="middle" font-family='"Liberation Serif","Times New Roman",serif' font-size="51" fill="#000">2</text>
<rect x="2533.6" y="2222" width="6.6" height="16.4" fill="#333"/>
<text x="2536.9" y="2293.8" text-anchor="middle" font-family='"Liberation Serif","Times New Roman",serif' font-size="51" fill="#000">3</text>
<rect x="2680.6" y="2222" width="6.6" height="16.4" fill="#333"/>
<text x="2683.9" y="2293.8" text-anchor="middle" font-family='"Liberation Serif","Times New Roman",serif' font-size="51" fill="#000">4</text>
<rect x="2827.5" y="2222" width="6.6" height="16.4" fill="#333"/>
<text x="2830.8" y="2293.8" text-anchor="middle" font-family='"Liberation Serif","Times New Roman",serif' font-size="51" fill="#000">5</text>
<rect x="2974.5" y="2222" width="6.6" height="16.4" fill="#333"/>
<text x="2977.8" y="2293.8" text-anchor="middle" font-family='"Liberation Serif","Times New Roman",serif' font-size="51" fill="#000">6</text>
<rect x="3121.5" y="2222" width="6.6" height="16.4" fill="#333"/>
<text x="3124.8" y="2293.8" text-anchor="middle" font-family='"Liberation Serif","Times New Roman",serif' font-size="51" fill="#000">7</text>
<rect x="3268.5" y="2222" width="6.6" height="16.4" fill="#333"/>
<text x="3271.8" y="2293.8" text-anchor="middle" font-family='"Liberation Serif","Times New Roman",serif' font-size="51" fill="#000">8</text>
<rect x="3415.4" y="2222" width="6.6" height="16.4" fill="#333"/>
<text x="3418.7" y="2293.8" text-anchor="middle" font-family='"Liberation Serif","Times New Roman",serif' font-size="51" fill="#000">9</text>
<rect x="3562.4" y="2222" width="6.6" height="16.4" fill="#333"/>
<text x="3565.7" y="2293.8" text-anchor="middle" font-family='"Liberation Serif","Times New Roman",serif' font-size="51" fill="#000">10</text>
<rect x="3709.4" y="2222" width="6.6" height="16.4" fill="#333"/>
<text x="3712.7" y="2293.8" text-anchor="middle" font-family='"Liberation Serif","Times New Roman",serif' font-size="51" fill="#000">11</text>
<rect x="3856.3" y="2222" width="6.6" height="16.4" fill="#333"/>
<text x="3859.6" y="2293.8" text-anchor="middle" font-family='"Liberation Serif","Times New Roman",serif' font-size="51" fill="#000">12</text>
<text transform="translate(2832.65 2376.70) scale(1.0471 1)" font-family='"Liberation Serif","Times New Roman",serif' font-size="53.3" fill="#000">TTP (month)</text>
<rect x="-5" y="45" width="4015.7" height="2700" rx="30.5" fill="none" stroke="#111" stroke-width="2.3"/>
<text x="24" y="2600" font-family='"Liberation Sans",Arial,sans-serif' font-size="60" fill="#222"><tspan font-weight="bold">Fig. 4</tspan> Impact of vaginal microbiota identified by clustering on the cumulative pregnancy rate. (A) Heatmap of the relative abundance of five</text>
</svg>
</body></html>
